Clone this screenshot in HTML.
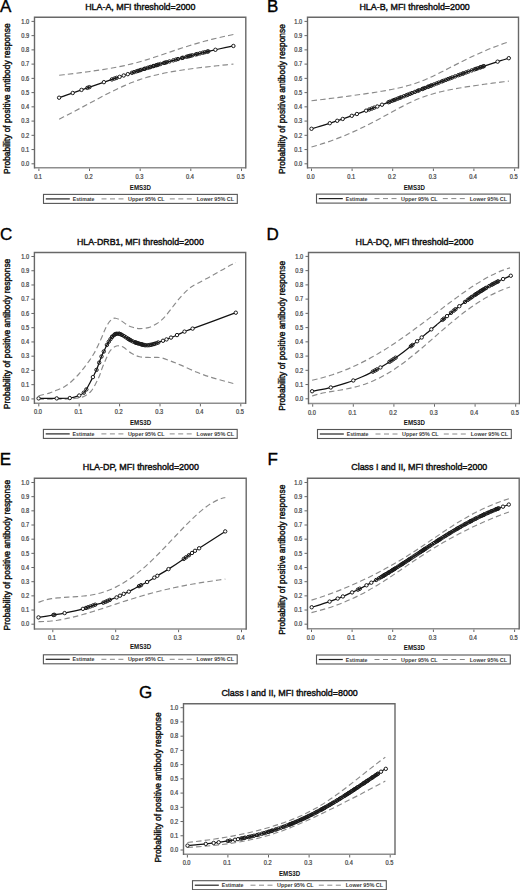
<!DOCTYPE html>
<html><head><meta charset="utf-8"><style>
html,body{margin:0;padding:0;background:#fff;}
body{width:520px;height:890px;overflow:hidden;}
svg{display:block;font-family:"Liberation Sans", sans-serif;}
</style></head><body>
<svg width="520" height="890" viewBox="0 0 520 890">
<rect width="520" height="890" fill="#fff"/>
<text x="0.10" y="11.50" font-size="17.00" text-anchor="start" font-weight="normal" fill="#000" stroke="#000" stroke-width="0.35">A</text>
<text x="140.35" y="9.80" font-size="9.50" text-anchor="middle" font-weight="normal" fill="#111" textLength="110.30" lengthAdjust="spacingAndGlyphs" stroke="#111" stroke-width="0.45">HLA-A, MFI threshold=2000</text>
<g transform="translate(9.60,98.65) rotate(-90)"><text x="0.00" y="0.00" font-size="8.60" text-anchor="middle" font-weight="normal" fill="#111" textLength="150.50" lengthAdjust="spacingAndGlyphs" stroke="#111" stroke-width="0.42">Probability of positive antibody response</text></g>
<line x1="34.50" y1="167.80" x2="245.80" y2="167.80" stroke="#8e8e8e" stroke-width="1.5"/>
<path d="M34.50,168.50 L34.50,17.20 L245.80,17.20 L245.80,168.50" fill="none" stroke="#686868" stroke-width="1.4" stroke-linejoin="miter"/>
<line x1="31.50" y1="163.80" x2="34.50" y2="163.80" stroke="#666" stroke-width="1"/>
<text x="29.20" y="166.00" font-size="6.30" text-anchor="end" font-weight="normal" fill="#444" textLength="7.90" lengthAdjust="spacingAndGlyphs" stroke="#444" stroke-width="0.22">0.0</text>
<line x1="31.50" y1="149.56" x2="34.50" y2="149.56" stroke="#666" stroke-width="1"/>
<text x="29.20" y="151.76" font-size="6.30" text-anchor="end" font-weight="normal" fill="#444" textLength="7.90" lengthAdjust="spacingAndGlyphs" stroke="#444" stroke-width="0.22">0.1</text>
<line x1="31.50" y1="135.32" x2="34.50" y2="135.32" stroke="#666" stroke-width="1"/>
<text x="29.20" y="137.52" font-size="6.30" text-anchor="end" font-weight="normal" fill="#444" textLength="7.90" lengthAdjust="spacingAndGlyphs" stroke="#444" stroke-width="0.22">0.2</text>
<line x1="31.50" y1="121.08" x2="34.50" y2="121.08" stroke="#666" stroke-width="1"/>
<text x="29.20" y="123.28" font-size="6.30" text-anchor="end" font-weight="normal" fill="#444" textLength="7.90" lengthAdjust="spacingAndGlyphs" stroke="#444" stroke-width="0.22">0.3</text>
<line x1="31.50" y1="106.84" x2="34.50" y2="106.84" stroke="#666" stroke-width="1"/>
<text x="29.20" y="109.04" font-size="6.30" text-anchor="end" font-weight="normal" fill="#444" textLength="7.90" lengthAdjust="spacingAndGlyphs" stroke="#444" stroke-width="0.22">0.4</text>
<line x1="31.50" y1="92.60" x2="34.50" y2="92.60" stroke="#666" stroke-width="1"/>
<text x="29.20" y="94.80" font-size="6.30" text-anchor="end" font-weight="normal" fill="#444" textLength="7.90" lengthAdjust="spacingAndGlyphs" stroke="#444" stroke-width="0.22">0.5</text>
<line x1="31.50" y1="78.36" x2="34.50" y2="78.36" stroke="#666" stroke-width="1"/>
<text x="29.20" y="80.56" font-size="6.30" text-anchor="end" font-weight="normal" fill="#444" textLength="7.90" lengthAdjust="spacingAndGlyphs" stroke="#444" stroke-width="0.22">0.6</text>
<line x1="31.50" y1="64.12" x2="34.50" y2="64.12" stroke="#666" stroke-width="1"/>
<text x="29.20" y="66.32" font-size="6.30" text-anchor="end" font-weight="normal" fill="#444" textLength="7.90" lengthAdjust="spacingAndGlyphs" stroke="#444" stroke-width="0.22">0.7</text>
<line x1="31.50" y1="49.88" x2="34.50" y2="49.88" stroke="#666" stroke-width="1"/>
<text x="29.20" y="52.08" font-size="6.30" text-anchor="end" font-weight="normal" fill="#444" textLength="7.90" lengthAdjust="spacingAndGlyphs" stroke="#444" stroke-width="0.22">0.8</text>
<line x1="31.50" y1="35.64" x2="34.50" y2="35.64" stroke="#666" stroke-width="1"/>
<text x="29.20" y="37.84" font-size="6.30" text-anchor="end" font-weight="normal" fill="#444" textLength="7.90" lengthAdjust="spacingAndGlyphs" stroke="#444" stroke-width="0.22">0.9</text>
<line x1="31.50" y1="21.40" x2="34.50" y2="21.40" stroke="#666" stroke-width="1"/>
<text x="29.20" y="23.60" font-size="6.30" text-anchor="end" font-weight="normal" fill="#444" textLength="7.90" lengthAdjust="spacingAndGlyphs" stroke="#444" stroke-width="0.22">1.0</text>
<line x1="38.90" y1="168.50" x2="38.90" y2="171.00" stroke="#666" stroke-width="1"/>
<text x="38.10" y="178.90" font-size="6.30" text-anchor="middle" font-weight="normal" fill="#444" textLength="7.90" lengthAdjust="spacingAndGlyphs" stroke="#444" stroke-width="0.22">0.1</text>
<line x1="89.50" y1="168.50" x2="89.50" y2="171.00" stroke="#666" stroke-width="1"/>
<text x="88.70" y="178.90" font-size="6.30" text-anchor="middle" font-weight="normal" fill="#444" textLength="7.90" lengthAdjust="spacingAndGlyphs" stroke="#444" stroke-width="0.22">0.2</text>
<line x1="140.20" y1="168.50" x2="140.20" y2="171.00" stroke="#666" stroke-width="1"/>
<text x="139.40" y="178.90" font-size="6.30" text-anchor="middle" font-weight="normal" fill="#444" textLength="7.90" lengthAdjust="spacingAndGlyphs" stroke="#444" stroke-width="0.22">0.3</text>
<line x1="190.80" y1="168.50" x2="190.80" y2="171.00" stroke="#666" stroke-width="1"/>
<text x="190.00" y="178.90" font-size="6.30" text-anchor="middle" font-weight="normal" fill="#444" textLength="7.90" lengthAdjust="spacingAndGlyphs" stroke="#444" stroke-width="0.22">0.4</text>
<line x1="241.50" y1="168.50" x2="241.50" y2="171.00" stroke="#666" stroke-width="1"/>
<text x="240.70" y="178.90" font-size="6.30" text-anchor="middle" font-weight="normal" fill="#444" textLength="7.90" lengthAdjust="spacingAndGlyphs" stroke="#444" stroke-width="0.22">0.5</text>
<text x="140.40" y="190.10" font-size="6.40" text-anchor="middle" font-weight="bold" fill="#111" textLength="21.20" lengthAdjust="spacingAndGlyphs">EMS3D</text>
<rect x="43.50" y="194.40" width="193.80" height="9.00" fill="#fff" stroke="#555" stroke-width="1.1"/>
<line x1="45.80" y1="198.90" x2="69.80" y2="198.90" stroke="#222" stroke-width="1.2"/>
<text x="72.70" y="200.90" font-size="5.60" text-anchor="start" font-weight="bold" fill="#3a3a3a" textLength="21.80" lengthAdjust="spacingAndGlyphs">Estimate</text>
<line x1="101.50" y1="198.90" x2="123.70" y2="198.90" stroke="#888" stroke-width="1" stroke-dasharray="5,3.5"/>
<text x="128.00" y="200.90" font-size="5.60" text-anchor="start" font-weight="bold" fill="#3a3a3a" textLength="36.60" lengthAdjust="spacingAndGlyphs">Upper 95% CL</text>
<line x1="169.80" y1="198.90" x2="192.30" y2="198.90" stroke="#888" stroke-width="1" stroke-dasharray="5,3.5"/>
<text x="196.70" y="200.90" font-size="5.60" text-anchor="start" font-weight="bold" fill="#3a3a3a" textLength="37.50" lengthAdjust="spacingAndGlyphs">Lower 95% CL</text>
<path d="M59.16,75.27 C60.37,75.13 64.00,74.71 66.42,74.43 C68.84,74.14 71.26,73.85 73.68,73.56 C76.10,73.26 78.52,72.96 80.94,72.65 C83.36,72.34 85.78,72.03 88.20,71.70 C90.62,71.37 93.04,71.04 95.46,70.69 C97.88,70.34 100.30,69.98 102.72,69.60 C105.14,69.22 107.56,68.82 109.98,68.40 C112.40,67.98 114.82,67.55 117.24,67.08 C119.66,66.61 122.08,66.12 124.50,65.58 C126.92,65.05 129.34,64.49 131.76,63.89 C134.18,63.29 136.60,62.65 139.02,61.98 C141.44,61.30 143.86,60.59 146.28,59.85 C148.70,59.11 151.12,58.34 153.54,57.55 C155.96,56.76 158.38,55.95 160.80,55.13 C163.22,54.32 165.64,53.49 168.06,52.67 C170.48,51.85 172.90,51.02 175.32,50.21 C177.74,49.41 180.16,48.60 182.58,47.82 C185.00,47.04 187.42,46.27 189.84,45.53 C192.26,44.78 194.68,44.05 197.10,43.35 C199.52,42.65 201.94,41.96 204.36,41.30 C206.78,40.65 209.20,40.01 211.62,39.40 C214.04,38.79 216.46,38.20 218.88,37.64 C221.30,37.08 223.72,36.54 226.14,36.02 C228.56,35.50 232.19,34.78 233.40,34.54" fill="none" stroke="#8a8a8a" stroke-width="1.15" stroke-dasharray="5.5,3.2"/>
<path d="M59.16,119.16 C60.37,118.55 64.00,116.73 66.42,115.49 C68.84,114.25 71.26,112.98 73.68,111.71 C76.10,110.44 78.52,109.15 80.94,107.86 C83.36,106.56 85.78,105.26 88.20,103.96 C90.62,102.66 93.04,101.36 95.46,100.07 C97.88,98.78 100.30,97.49 102.72,96.22 C105.14,94.96 107.56,93.71 109.98,92.49 C112.40,91.28 114.82,90.08 117.24,88.93 C119.66,87.78 122.08,86.66 124.50,85.60 C126.92,84.54 129.34,83.52 131.76,82.57 C134.18,81.62 136.60,80.72 139.02,79.88 C141.44,79.04 143.86,78.27 146.28,77.55 C148.70,76.83 151.12,76.17 153.54,75.56 C155.96,74.94 158.38,74.38 160.80,73.86 C163.22,73.33 165.64,72.86 168.06,72.40 C170.48,71.95 172.90,71.53 175.32,71.13 C177.74,70.73 180.16,70.36 182.58,70.00 C185.00,69.64 187.42,69.31 189.84,68.98 C192.26,68.65 194.68,68.34 197.10,68.04 C199.52,67.74 201.94,67.45 204.36,67.17 C206.78,66.88 209.20,66.61 211.62,66.34 C214.04,66.08 216.46,65.82 218.88,65.56 C221.30,65.31 223.72,65.06 226.14,64.81 C228.56,64.57 232.19,64.21 233.40,64.09" fill="none" stroke="#8a8a8a" stroke-width="1.15" stroke-dasharray="5.5,3.2"/>
<path d="M59.16,97.70 C60.37,97.28 64.00,96.02 66.42,95.17 C68.84,94.33 71.26,93.48 73.68,92.64 C76.10,91.79 78.52,90.95 80.94,90.10 C83.36,89.26 85.78,88.41 88.20,87.57 C90.62,86.73 93.04,85.89 95.46,85.05 C97.88,84.22 100.30,83.38 102.72,82.55 C105.14,81.72 107.56,80.90 109.98,80.08 C112.40,79.26 114.82,78.44 117.24,77.64 C119.66,76.83 122.08,76.02 124.50,75.23 C126.92,74.43 129.34,73.64 131.76,72.86 C134.18,72.08 136.60,71.31 139.02,70.54 C141.44,69.78 143.86,69.02 146.28,68.28 C148.70,67.53 151.12,66.79 153.54,66.06 C155.96,65.33 158.38,64.61 160.80,63.91 C163.22,63.20 165.64,62.50 168.06,61.81 C170.48,61.12 172.90,60.45 175.32,59.78 C177.74,59.11 180.16,58.46 182.58,57.81 C185.00,57.17 187.42,56.54 189.84,55.92 C192.26,55.29 194.68,54.68 197.10,54.09 C199.52,53.49 201.94,52.90 204.36,52.32 C206.78,51.75 209.20,51.19 211.62,50.63 C214.04,50.08 216.46,49.54 218.88,49.01 C221.30,48.48 223.72,47.97 226.14,47.46 C228.56,46.95 232.19,46.22 233.40,45.98" fill="none" stroke="#111" stroke-width="1.25"/>
<circle cx="59.10" cy="97.70" r="1.7" fill="#fff" stroke="#1a1a1a" stroke-width="1.0"/>
<circle cx="72.70" cy="92.98" r="1.7" fill="#fff" stroke="#1a1a1a" stroke-width="1.0"/>
<circle cx="81.50" cy="89.90" r="1.7" fill="#fff" stroke="#1a1a1a" stroke-width="1.0"/>
<circle cx="87.40" cy="87.85" r="1.7" fill="none" stroke="#1a1a1a" stroke-width="1.0"/>
<circle cx="89.40" cy="87.15" r="1.7" fill="none" stroke="#1a1a1a" stroke-width="1.0"/>
<circle cx="103.90" cy="82.15" r="1.7" fill="#fff" stroke="#1a1a1a" stroke-width="1.0"/>
<circle cx="111.90" cy="79.43" r="1.7" fill="none" stroke="#1a1a1a" stroke-width="1.0"/>
<circle cx="114.50" cy="78.55" r="1.7" fill="none" stroke="#1a1a1a" stroke-width="1.0"/>
<circle cx="116.60" cy="77.85" r="1.7" fill="none" stroke="#1a1a1a" stroke-width="1.0"/>
<circle cx="119.60" cy="76.85" r="1.7" fill="#fff" stroke="#1a1a1a" stroke-width="1.0"/>
<circle cx="123.70" cy="75.49" r="1.7" fill="#fff" stroke="#1a1a1a" stroke-width="1.0"/>
<circle cx="127.80" cy="74.15" r="1.7" fill="#fff" stroke="#1a1a1a" stroke-width="1.0"/>
<circle cx="131.90" cy="72.82" r="1.7" fill="none" stroke="#1a1a1a" stroke-width="1.0"/>
<circle cx="134.00" cy="72.14" r="1.7" fill="none" stroke="#1a1a1a" stroke-width="1.0"/>
<circle cx="136.50" cy="71.34" r="1.7" fill="none" stroke="#1a1a1a" stroke-width="1.0"/>
<circle cx="138.00" cy="70.87" r="1.7" fill="none" stroke="#1a1a1a" stroke-width="1.0"/>
<circle cx="139.85" cy="70.28" r="1.7" fill="none" stroke="#1a1a1a" stroke-width="1.0"/>
<circle cx="141.16" cy="69.87" r="1.7" fill="none" stroke="#1a1a1a" stroke-width="1.0"/>
<circle cx="144.03" cy="68.97" r="1.7" fill="none" stroke="#1a1a1a" stroke-width="1.0"/>
<circle cx="145.10" cy="68.64" r="1.7" fill="none" stroke="#1a1a1a" stroke-width="1.0"/>
<circle cx="147.61" cy="67.87" r="1.7" fill="none" stroke="#1a1a1a" stroke-width="1.0"/>
<circle cx="149.59" cy="67.26" r="1.7" fill="none" stroke="#1a1a1a" stroke-width="1.0"/>
<circle cx="150.61" cy="66.95" r="1.7" fill="none" stroke="#1a1a1a" stroke-width="1.0"/>
<circle cx="153.03" cy="66.21" r="1.7" fill="none" stroke="#1a1a1a" stroke-width="1.0"/>
<circle cx="153.99" cy="65.92" r="1.7" fill="none" stroke="#1a1a1a" stroke-width="1.0"/>
<circle cx="156.18" cy="65.27" r="1.7" fill="none" stroke="#1a1a1a" stroke-width="1.0"/>
<circle cx="157.24" cy="64.95" r="1.7" fill="none" stroke="#1a1a1a" stroke-width="1.0"/>
<circle cx="158.37" cy="64.62" r="1.7" fill="none" stroke="#1a1a1a" stroke-width="1.0"/>
<circle cx="160.53" cy="63.98" r="1.7" fill="none" stroke="#1a1a1a" stroke-width="1.0"/>
<circle cx="163.95" cy="62.99" r="1.7" fill="none" stroke="#1a1a1a" stroke-width="1.0"/>
<circle cx="165.18" cy="62.63" r="1.7" fill="none" stroke="#1a1a1a" stroke-width="1.0"/>
<circle cx="166.71" cy="62.19" r="1.7" fill="none" stroke="#1a1a1a" stroke-width="1.0"/>
<circle cx="169.51" cy="61.40" r="1.7" fill="none" stroke="#1a1a1a" stroke-width="1.0"/>
<circle cx="173.31" cy="60.34" r="1.7" fill="none" stroke="#1a1a1a" stroke-width="1.0"/>
<circle cx="175.95" cy="59.61" r="1.7" fill="none" stroke="#1a1a1a" stroke-width="1.0"/>
<circle cx="178.03" cy="59.04" r="1.7" fill="none" stroke="#1a1a1a" stroke-width="1.0"/>
<circle cx="181.91" cy="57.99" r="1.7" fill="none" stroke="#1a1a1a" stroke-width="1.0"/>
<circle cx="182.90" cy="57.73" r="1.7" fill="none" stroke="#1a1a1a" stroke-width="1.0"/>
<circle cx="186.42" cy="56.80" r="1.7" fill="none" stroke="#1a1a1a" stroke-width="1.0"/>
<circle cx="188.16" cy="56.35" r="1.7" fill="none" stroke="#1a1a1a" stroke-width="1.0"/>
<circle cx="189.45" cy="56.02" r="1.7" fill="none" stroke="#1a1a1a" stroke-width="1.0"/>
<circle cx="190.66" cy="55.71" r="1.7" fill="none" stroke="#1a1a1a" stroke-width="1.0"/>
<circle cx="192.46" cy="55.25" r="1.7" fill="none" stroke="#1a1a1a" stroke-width="1.0"/>
<circle cx="195.85" cy="54.40" r="1.7" fill="none" stroke="#1a1a1a" stroke-width="1.0"/>
<circle cx="197.25" cy="54.05" r="1.7" fill="none" stroke="#1a1a1a" stroke-width="1.0"/>
<circle cx="199.90" cy="53.40" r="1.7" fill="none" stroke="#1a1a1a" stroke-width="1.0"/>
<circle cx="202.74" cy="52.71" r="1.7" fill="none" stroke="#1a1a1a" stroke-width="1.0"/>
<circle cx="204.74" cy="52.23" r="1.7" fill="none" stroke="#1a1a1a" stroke-width="1.0"/>
<circle cx="207.29" cy="51.63" r="1.7" fill="none" stroke="#1a1a1a" stroke-width="1.0"/>
<circle cx="208.32" cy="51.39" r="1.7" fill="none" stroke="#1a1a1a" stroke-width="1.0"/>
<circle cx="215.40" cy="49.78" r="1.7" fill="#fff" stroke="#1a1a1a" stroke-width="1.0"/>
<circle cx="233.40" cy="45.98" r="1.7" fill="#fff" stroke="#1a1a1a" stroke-width="1.0"/>
<text x="267.00" y="11.90" font-size="17.00" text-anchor="start" font-weight="normal" fill="#000" stroke="#000" stroke-width="0.35">B</text>
<text x="414.60" y="10.20" font-size="9.50" text-anchor="middle" font-weight="normal" fill="#111" textLength="110.40" lengthAdjust="spacingAndGlyphs" stroke="#111" stroke-width="0.45">HLA-B, MFI threshold=2000</text>
<g transform="translate(284.60,99.15) rotate(-90)"><text x="0.00" y="0.00" font-size="8.60" text-anchor="middle" font-weight="normal" fill="#111" textLength="149.90" lengthAdjust="spacingAndGlyphs" stroke="#111" stroke-width="0.42">Probability of positive antibody response</text></g>
<line x1="307.50" y1="167.80" x2="518.50" y2="167.80" stroke="#8e8e8e" stroke-width="1.5"/>
<path d="M307.50,168.50 L307.50,17.20 L518.50,17.20 L518.50,168.50" fill="none" stroke="#686868" stroke-width="1.4" stroke-linejoin="miter"/>
<line x1="304.50" y1="163.80" x2="307.50" y2="163.80" stroke="#666" stroke-width="1"/>
<text x="302.20" y="166.00" font-size="6.30" text-anchor="end" font-weight="normal" fill="#444" textLength="7.90" lengthAdjust="spacingAndGlyphs" stroke="#444" stroke-width="0.22">0.0</text>
<line x1="304.50" y1="149.56" x2="307.50" y2="149.56" stroke="#666" stroke-width="1"/>
<text x="302.20" y="151.76" font-size="6.30" text-anchor="end" font-weight="normal" fill="#444" textLength="7.90" lengthAdjust="spacingAndGlyphs" stroke="#444" stroke-width="0.22">0.1</text>
<line x1="304.50" y1="135.32" x2="307.50" y2="135.32" stroke="#666" stroke-width="1"/>
<text x="302.20" y="137.52" font-size="6.30" text-anchor="end" font-weight="normal" fill="#444" textLength="7.90" lengthAdjust="spacingAndGlyphs" stroke="#444" stroke-width="0.22">0.2</text>
<line x1="304.50" y1="121.08" x2="307.50" y2="121.08" stroke="#666" stroke-width="1"/>
<text x="302.20" y="123.28" font-size="6.30" text-anchor="end" font-weight="normal" fill="#444" textLength="7.90" lengthAdjust="spacingAndGlyphs" stroke="#444" stroke-width="0.22">0.3</text>
<line x1="304.50" y1="106.84" x2="307.50" y2="106.84" stroke="#666" stroke-width="1"/>
<text x="302.20" y="109.04" font-size="6.30" text-anchor="end" font-weight="normal" fill="#444" textLength="7.90" lengthAdjust="spacingAndGlyphs" stroke="#444" stroke-width="0.22">0.4</text>
<line x1="304.50" y1="92.60" x2="307.50" y2="92.60" stroke="#666" stroke-width="1"/>
<text x="302.20" y="94.80" font-size="6.30" text-anchor="end" font-weight="normal" fill="#444" textLength="7.90" lengthAdjust="spacingAndGlyphs" stroke="#444" stroke-width="0.22">0.5</text>
<line x1="304.50" y1="78.36" x2="307.50" y2="78.36" stroke="#666" stroke-width="1"/>
<text x="302.20" y="80.56" font-size="6.30" text-anchor="end" font-weight="normal" fill="#444" textLength="7.90" lengthAdjust="spacingAndGlyphs" stroke="#444" stroke-width="0.22">0.6</text>
<line x1="304.50" y1="64.12" x2="307.50" y2="64.12" stroke="#666" stroke-width="1"/>
<text x="302.20" y="66.32" font-size="6.30" text-anchor="end" font-weight="normal" fill="#444" textLength="7.90" lengthAdjust="spacingAndGlyphs" stroke="#444" stroke-width="0.22">0.7</text>
<line x1="304.50" y1="49.88" x2="307.50" y2="49.88" stroke="#666" stroke-width="1"/>
<text x="302.20" y="52.08" font-size="6.30" text-anchor="end" font-weight="normal" fill="#444" textLength="7.90" lengthAdjust="spacingAndGlyphs" stroke="#444" stroke-width="0.22">0.8</text>
<line x1="304.50" y1="35.64" x2="307.50" y2="35.64" stroke="#666" stroke-width="1"/>
<text x="302.20" y="37.84" font-size="6.30" text-anchor="end" font-weight="normal" fill="#444" textLength="7.90" lengthAdjust="spacingAndGlyphs" stroke="#444" stroke-width="0.22">0.9</text>
<line x1="304.50" y1="21.40" x2="307.50" y2="21.40" stroke="#666" stroke-width="1"/>
<text x="302.20" y="23.60" font-size="6.30" text-anchor="end" font-weight="normal" fill="#444" textLength="7.90" lengthAdjust="spacingAndGlyphs" stroke="#444" stroke-width="0.22">1.0</text>
<line x1="311.50" y1="168.50" x2="311.50" y2="171.00" stroke="#666" stroke-width="1"/>
<text x="310.70" y="178.90" font-size="6.30" text-anchor="middle" font-weight="normal" fill="#444" textLength="7.90" lengthAdjust="spacingAndGlyphs" stroke="#444" stroke-width="0.22">0.0</text>
<line x1="352.10" y1="168.50" x2="352.10" y2="171.00" stroke="#666" stroke-width="1"/>
<text x="351.30" y="178.90" font-size="6.30" text-anchor="middle" font-weight="normal" fill="#444" textLength="7.90" lengthAdjust="spacingAndGlyphs" stroke="#444" stroke-width="0.22">0.1</text>
<line x1="392.70" y1="168.50" x2="392.70" y2="171.00" stroke="#666" stroke-width="1"/>
<text x="391.90" y="178.90" font-size="6.30" text-anchor="middle" font-weight="normal" fill="#444" textLength="7.90" lengthAdjust="spacingAndGlyphs" stroke="#444" stroke-width="0.22">0.2</text>
<line x1="433.40" y1="168.50" x2="433.40" y2="171.00" stroke="#666" stroke-width="1"/>
<text x="432.60" y="178.90" font-size="6.30" text-anchor="middle" font-weight="normal" fill="#444" textLength="7.90" lengthAdjust="spacingAndGlyphs" stroke="#444" stroke-width="0.22">0.3</text>
<line x1="473.90" y1="168.50" x2="473.90" y2="171.00" stroke="#666" stroke-width="1"/>
<text x="473.10" y="178.90" font-size="6.30" text-anchor="middle" font-weight="normal" fill="#444" textLength="7.90" lengthAdjust="spacingAndGlyphs" stroke="#444" stroke-width="0.22">0.4</text>
<line x1="514.60" y1="168.50" x2="514.60" y2="171.00" stroke="#666" stroke-width="1"/>
<text x="513.80" y="178.90" font-size="6.30" text-anchor="middle" font-weight="normal" fill="#444" textLength="7.90" lengthAdjust="spacingAndGlyphs" stroke="#444" stroke-width="0.22">0.5</text>
<text x="414.30" y="189.90" font-size="6.40" text-anchor="middle" font-weight="bold" fill="#111" textLength="21.20" lengthAdjust="spacingAndGlyphs">EMS3D</text>
<rect x="316.50" y="194.10" width="193.80" height="9.00" fill="#fff" stroke="#555" stroke-width="1.1"/>
<line x1="318.80" y1="198.60" x2="342.80" y2="198.60" stroke="#222" stroke-width="1.2"/>
<text x="345.70" y="200.60" font-size="5.60" text-anchor="start" font-weight="bold" fill="#3a3a3a" textLength="21.80" lengthAdjust="spacingAndGlyphs">Estimate</text>
<line x1="374.50" y1="198.60" x2="396.70" y2="198.60" stroke="#888" stroke-width="1" stroke-dasharray="5,3.5"/>
<text x="401.00" y="200.60" font-size="5.60" text-anchor="start" font-weight="bold" fill="#3a3a3a" textLength="36.60" lengthAdjust="spacingAndGlyphs">Upper 95% CL</text>
<line x1="442.80" y1="198.60" x2="465.30" y2="198.60" stroke="#888" stroke-width="1" stroke-dasharray="5,3.5"/>
<text x="469.70" y="200.60" font-size="5.60" text-anchor="start" font-weight="bold" fill="#3a3a3a" textLength="37.50" lengthAdjust="spacingAndGlyphs">Lower 95% CL</text>
<path d="M311.50,100.79 C312.87,100.63 316.98,100.13 319.73,99.79 C322.47,99.45 325.21,99.12 327.95,98.77 C330.69,98.43 333.43,98.08 336.18,97.73 C338.92,97.38 341.66,97.03 344.40,96.67 C347.14,96.31 349.89,95.94 352.63,95.57 C355.37,95.20 358.11,94.82 360.85,94.43 C363.60,94.04 366.34,93.64 369.08,93.23 C371.82,92.82 374.56,92.40 377.30,91.96 C380.05,91.51 382.79,91.06 385.53,90.56 C388.27,90.07 391.01,89.57 393.76,89.00 C396.50,88.44 399.24,87.86 401.98,87.19 C404.72,86.52 407.46,85.81 410.21,85.00 C412.95,84.18 415.69,83.30 418.43,82.30 C421.17,81.31 423.92,80.21 426.66,79.04 C429.40,77.87 432.14,76.58 434.88,75.27 C437.63,73.96 440.37,72.56 443.11,71.18 C445.85,69.79 448.59,68.35 451.33,66.94 C454.08,65.54 456.82,64.11 459.56,62.73 C462.30,61.34 465.04,59.97 467.79,58.64 C470.53,57.31 473.27,56.01 476.01,54.75 C478.75,53.50 481.49,52.28 484.24,51.11 C486.98,49.94 489.72,48.82 492.46,47.74 C495.20,46.66 497.95,45.64 500.69,44.65 C503.43,43.67 507.54,42.32 508.91,41.85" fill="none" stroke="#8a8a8a" stroke-width="1.15" stroke-dasharray="5.5,3.2"/>
<path d="M311.50,146.99 C312.87,146.59 316.98,145.43 319.73,144.58 C322.47,143.74 325.21,142.85 327.95,141.90 C330.69,140.96 333.43,139.98 336.18,138.94 C338.92,137.90 341.66,136.81 344.40,135.68 C347.14,134.54 349.89,133.36 352.63,132.13 C355.37,130.90 358.11,129.62 360.85,128.30 C363.60,126.98 366.34,125.61 369.08,124.21 C371.82,122.82 374.56,121.38 377.30,119.92 C380.05,118.47 382.79,116.98 385.53,115.49 C388.27,114.00 391.01,112.49 393.76,111.01 C396.50,109.53 399.24,108.04 401.98,106.62 C404.72,105.20 407.46,103.79 410.21,102.49 C412.95,101.19 415.69,99.94 418.43,98.82 C421.17,97.69 423.92,96.66 426.66,95.73 C429.40,94.80 432.14,93.99 434.88,93.23 C437.63,92.47 440.37,91.82 443.11,91.20 C445.85,90.58 448.59,90.03 451.33,89.50 C454.08,88.97 456.82,88.49 459.56,88.02 C462.30,87.55 465.04,87.11 467.79,86.69 C470.53,86.26 473.27,85.85 476.01,85.46 C478.75,85.06 481.49,84.68 484.24,84.30 C486.98,83.92 489.72,83.56 492.46,83.19 C495.20,82.83 497.95,82.48 500.69,82.13 C503.43,81.78 507.54,81.27 508.91,81.09" fill="none" stroke="#8a8a8a" stroke-width="1.15" stroke-dasharray="5.5,3.2"/>
<path d="M311.50,128.79 C312.87,128.39 316.98,127.18 319.73,126.35 C322.47,125.51 325.21,124.66 327.95,123.79 C330.69,122.92 333.43,122.03 336.18,121.13 C338.92,120.22 341.66,119.30 344.40,118.37 C347.14,117.43 349.89,116.48 352.63,115.52 C355.37,114.55 358.11,113.57 360.85,112.58 C363.60,111.59 366.34,110.59 369.08,109.57 C371.82,108.56 374.56,107.53 377.30,106.50 C380.05,105.46 382.79,104.42 385.53,103.36 C388.27,102.31 391.01,101.25 393.76,100.19 C396.50,99.13 399.24,98.06 401.98,96.98 C404.72,95.91 407.46,94.84 410.21,93.76 C412.95,92.69 415.69,91.61 418.43,90.53 C421.17,89.46 423.92,88.38 426.66,87.31 C429.40,86.24 432.14,85.17 434.88,84.11 C437.63,83.05 440.37,82.00 443.11,80.95 C445.85,79.90 448.59,78.86 451.33,77.83 C454.08,76.80 456.82,75.78 459.56,74.77 C462.30,73.77 465.04,72.77 467.79,71.78 C470.53,70.80 473.27,69.83 476.01,68.87 C478.75,67.92 481.49,66.97 484.24,66.05 C486.98,65.12 489.72,64.21 492.46,63.31 C495.20,62.42 497.95,61.54 500.69,60.68 C503.43,59.82 507.54,58.58 508.91,58.16" fill="none" stroke="#111" stroke-width="1.25"/>
<circle cx="311.50" cy="128.79" r="1.7" fill="#fff" stroke="#1a1a1a" stroke-width="1.0"/>
<circle cx="329.80" cy="123.20" r="1.7" fill="#fff" stroke="#1a1a1a" stroke-width="1.0"/>
<circle cx="337.20" cy="120.79" r="1.7" fill="#fff" stroke="#1a1a1a" stroke-width="1.0"/>
<circle cx="342.70" cy="118.95" r="1.7" fill="#fff" stroke="#1a1a1a" stroke-width="1.0"/>
<circle cx="351.80" cy="115.81" r="1.7" fill="#fff" stroke="#1a1a1a" stroke-width="1.0"/>
<circle cx="356.90" cy="114.00" r="1.7" fill="#fff" stroke="#1a1a1a" stroke-width="1.0"/>
<circle cx="366.10" cy="110.67" r="1.7" fill="#fff" stroke="#1a1a1a" stroke-width="1.0"/>
<circle cx="369.20" cy="109.53" r="1.7" fill="none" stroke="#1a1a1a" stroke-width="1.0"/>
<circle cx="371.80" cy="108.56" r="1.7" fill="none" stroke="#1a1a1a" stroke-width="1.0"/>
<circle cx="374.30" cy="107.63" r="1.7" fill="none" stroke="#1a1a1a" stroke-width="1.0"/>
<circle cx="377.30" cy="106.50" r="1.7" fill="#fff" stroke="#1a1a1a" stroke-width="1.0"/>
<circle cx="382.00" cy="104.71" r="1.7" fill="#fff" stroke="#1a1a1a" stroke-width="1.0"/>
<circle cx="388.50" cy="102.22" r="1.7" fill="none" stroke="#1a1a1a" stroke-width="1.0"/>
<circle cx="389.74" cy="101.75" r="1.7" fill="none" stroke="#1a1a1a" stroke-width="1.0"/>
<circle cx="392.20" cy="100.79" r="1.7" fill="none" stroke="#1a1a1a" stroke-width="1.0"/>
<circle cx="394.02" cy="100.09" r="1.7" fill="none" stroke="#1a1a1a" stroke-width="1.0"/>
<circle cx="395.53" cy="99.50" r="1.7" fill="none" stroke="#1a1a1a" stroke-width="1.0"/>
<circle cx="397.76" cy="98.63" r="1.7" fill="none" stroke="#1a1a1a" stroke-width="1.0"/>
<circle cx="399.63" cy="97.90" r="1.7" fill="none" stroke="#1a1a1a" stroke-width="1.0"/>
<circle cx="401.11" cy="97.32" r="1.7" fill="none" stroke="#1a1a1a" stroke-width="1.0"/>
<circle cx="403.88" cy="96.24" r="1.7" fill="none" stroke="#1a1a1a" stroke-width="1.0"/>
<circle cx="406.40" cy="95.26" r="1.7" fill="none" stroke="#1a1a1a" stroke-width="1.0"/>
<circle cx="407.73" cy="94.73" r="1.7" fill="none" stroke="#1a1a1a" stroke-width="1.0"/>
<circle cx="409.92" cy="93.87" r="1.7" fill="none" stroke="#1a1a1a" stroke-width="1.0"/>
<circle cx="411.99" cy="93.06" r="1.7" fill="none" stroke="#1a1a1a" stroke-width="1.0"/>
<circle cx="414.96" cy="91.89" r="1.7" fill="none" stroke="#1a1a1a" stroke-width="1.0"/>
<circle cx="417.56" cy="90.87" r="1.7" fill="none" stroke="#1a1a1a" stroke-width="1.0"/>
<circle cx="419.01" cy="90.31" r="1.7" fill="none" stroke="#1a1a1a" stroke-width="1.0"/>
<circle cx="422.26" cy="89.03" r="1.7" fill="none" stroke="#1a1a1a" stroke-width="1.0"/>
<circle cx="423.27" cy="88.64" r="1.7" fill="none" stroke="#1a1a1a" stroke-width="1.0"/>
<circle cx="425.05" cy="87.94" r="1.7" fill="none" stroke="#1a1a1a" stroke-width="1.0"/>
<circle cx="427.72" cy="86.90" r="1.7" fill="none" stroke="#1a1a1a" stroke-width="1.0"/>
<circle cx="428.82" cy="86.47" r="1.7" fill="none" stroke="#1a1a1a" stroke-width="1.0"/>
<circle cx="430.79" cy="85.70" r="1.7" fill="none" stroke="#1a1a1a" stroke-width="1.0"/>
<circle cx="431.59" cy="85.39" r="1.7" fill="none" stroke="#1a1a1a" stroke-width="1.0"/>
<circle cx="434.03" cy="84.45" r="1.7" fill="none" stroke="#1a1a1a" stroke-width="1.0"/>
<circle cx="436.71" cy="83.41" r="1.7" fill="none" stroke="#1a1a1a" stroke-width="1.0"/>
<circle cx="438.90" cy="82.56" r="1.7" fill="none" stroke="#1a1a1a" stroke-width="1.0"/>
<circle cx="441.88" cy="81.42" r="1.7" fill="none" stroke="#1a1a1a" stroke-width="1.0"/>
<circle cx="443.40" cy="80.84" r="1.7" fill="none" stroke="#1a1a1a" stroke-width="1.0"/>
<circle cx="445.90" cy="79.89" r="1.7" fill="none" stroke="#1a1a1a" stroke-width="1.0"/>
<circle cx="448.15" cy="79.03" r="1.7" fill="none" stroke="#1a1a1a" stroke-width="1.0"/>
<circle cx="450.36" cy="78.20" r="1.7" fill="none" stroke="#1a1a1a" stroke-width="1.0"/>
<circle cx="452.24" cy="77.49" r="1.7" fill="none" stroke="#1a1a1a" stroke-width="1.0"/>
<circle cx="455.13" cy="76.41" r="1.7" fill="none" stroke="#1a1a1a" stroke-width="1.0"/>
<circle cx="458.28" cy="75.24" r="1.7" fill="none" stroke="#1a1a1a" stroke-width="1.0"/>
<circle cx="460.22" cy="74.53" r="1.7" fill="none" stroke="#1a1a1a" stroke-width="1.0"/>
<circle cx="462.64" cy="73.64" r="1.7" fill="none" stroke="#1a1a1a" stroke-width="1.0"/>
<circle cx="463.50" cy="73.33" r="1.7" fill="none" stroke="#1a1a1a" stroke-width="1.0"/>
<circle cx="466.02" cy="72.42" r="1.7" fill="none" stroke="#1a1a1a" stroke-width="1.0"/>
<circle cx="468.41" cy="71.56" r="1.7" fill="none" stroke="#1a1a1a" stroke-width="1.0"/>
<circle cx="471.69" cy="70.39" r="1.7" fill="none" stroke="#1a1a1a" stroke-width="1.0"/>
<circle cx="474.53" cy="69.39" r="1.7" fill="none" stroke="#1a1a1a" stroke-width="1.0"/>
<circle cx="475.97" cy="68.89" r="1.7" fill="none" stroke="#1a1a1a" stroke-width="1.0"/>
<circle cx="477.67" cy="68.29" r="1.7" fill="none" stroke="#1a1a1a" stroke-width="1.0"/>
<circle cx="480.11" cy="67.45" r="1.7" fill="none" stroke="#1a1a1a" stroke-width="1.0"/>
<circle cx="480.87" cy="67.19" r="1.7" fill="none" stroke="#1a1a1a" stroke-width="1.0"/>
<circle cx="482.77" cy="66.54" r="1.7" fill="none" stroke="#1a1a1a" stroke-width="1.0"/>
<circle cx="483.90" cy="66.16" r="1.7" fill="none" stroke="#1a1a1a" stroke-width="1.0"/>
<circle cx="497.60" cy="61.66" r="1.7" fill="#fff" stroke="#1a1a1a" stroke-width="1.0"/>
<circle cx="508.80" cy="58.19" r="1.7" fill="#fff" stroke="#1a1a1a" stroke-width="1.0"/>
<text x="0.00" y="240.00" font-size="17.00" text-anchor="start" font-weight="normal" fill="#000" stroke="#000" stroke-width="0.35">C</text>
<text x="140.35" y="244.60" font-size="9.50" text-anchor="middle" font-weight="normal" fill="#111" textLength="126.90" lengthAdjust="spacingAndGlyphs" stroke="#111" stroke-width="0.45">HLA-DRB1, MFI threshold=2000</text>
<g transform="translate(9.60,333.95) rotate(-90)"><text x="0.00" y="0.00" font-size="8.60" text-anchor="middle" font-weight="normal" fill="#111" textLength="150.50" lengthAdjust="spacingAndGlyphs" stroke="#111" stroke-width="0.42">Probability of positive antibody response</text></g>
<line x1="34.40" y1="403.20" x2="245.70" y2="403.20" stroke="#8e8e8e" stroke-width="1.5"/>
<path d="M34.40,403.90 L34.40,252.50 L245.70,252.50 L245.70,403.90" fill="none" stroke="#686868" stroke-width="1.4" stroke-linejoin="miter"/>
<line x1="31.40" y1="398.90" x2="34.40" y2="398.90" stroke="#666" stroke-width="1"/>
<text x="29.10" y="401.10" font-size="6.30" text-anchor="end" font-weight="normal" fill="#444" textLength="7.90" lengthAdjust="spacingAndGlyphs" stroke="#444" stroke-width="0.22">0.0</text>
<line x1="31.40" y1="384.66" x2="34.40" y2="384.66" stroke="#666" stroke-width="1"/>
<text x="29.10" y="386.86" font-size="6.30" text-anchor="end" font-weight="normal" fill="#444" textLength="7.90" lengthAdjust="spacingAndGlyphs" stroke="#444" stroke-width="0.22">0.1</text>
<line x1="31.40" y1="370.42" x2="34.40" y2="370.42" stroke="#666" stroke-width="1"/>
<text x="29.10" y="372.62" font-size="6.30" text-anchor="end" font-weight="normal" fill="#444" textLength="7.90" lengthAdjust="spacingAndGlyphs" stroke="#444" stroke-width="0.22">0.2</text>
<line x1="31.40" y1="356.18" x2="34.40" y2="356.18" stroke="#666" stroke-width="1"/>
<text x="29.10" y="358.38" font-size="6.30" text-anchor="end" font-weight="normal" fill="#444" textLength="7.90" lengthAdjust="spacingAndGlyphs" stroke="#444" stroke-width="0.22">0.3</text>
<line x1="31.40" y1="341.94" x2="34.40" y2="341.94" stroke="#666" stroke-width="1"/>
<text x="29.10" y="344.14" font-size="6.30" text-anchor="end" font-weight="normal" fill="#444" textLength="7.90" lengthAdjust="spacingAndGlyphs" stroke="#444" stroke-width="0.22">0.4</text>
<line x1="31.40" y1="327.70" x2="34.40" y2="327.70" stroke="#666" stroke-width="1"/>
<text x="29.10" y="329.90" font-size="6.30" text-anchor="end" font-weight="normal" fill="#444" textLength="7.90" lengthAdjust="spacingAndGlyphs" stroke="#444" stroke-width="0.22">0.5</text>
<line x1="31.40" y1="313.46" x2="34.40" y2="313.46" stroke="#666" stroke-width="1"/>
<text x="29.10" y="315.66" font-size="6.30" text-anchor="end" font-weight="normal" fill="#444" textLength="7.90" lengthAdjust="spacingAndGlyphs" stroke="#444" stroke-width="0.22">0.6</text>
<line x1="31.40" y1="299.22" x2="34.40" y2="299.22" stroke="#666" stroke-width="1"/>
<text x="29.10" y="301.42" font-size="6.30" text-anchor="end" font-weight="normal" fill="#444" textLength="7.90" lengthAdjust="spacingAndGlyphs" stroke="#444" stroke-width="0.22">0.7</text>
<line x1="31.40" y1="284.98" x2="34.40" y2="284.98" stroke="#666" stroke-width="1"/>
<text x="29.10" y="287.18" font-size="6.30" text-anchor="end" font-weight="normal" fill="#444" textLength="7.90" lengthAdjust="spacingAndGlyphs" stroke="#444" stroke-width="0.22">0.8</text>
<line x1="31.40" y1="270.74" x2="34.40" y2="270.74" stroke="#666" stroke-width="1"/>
<text x="29.10" y="272.94" font-size="6.30" text-anchor="end" font-weight="normal" fill="#444" textLength="7.90" lengthAdjust="spacingAndGlyphs" stroke="#444" stroke-width="0.22">0.9</text>
<line x1="31.40" y1="256.50" x2="34.40" y2="256.50" stroke="#666" stroke-width="1"/>
<text x="29.10" y="258.70" font-size="6.30" text-anchor="end" font-weight="normal" fill="#444" textLength="7.90" lengthAdjust="spacingAndGlyphs" stroke="#444" stroke-width="0.22">1.0</text>
<line x1="38.80" y1="403.90" x2="38.80" y2="406.40" stroke="#666" stroke-width="1"/>
<text x="38.00" y="414.30" font-size="6.30" text-anchor="middle" font-weight="normal" fill="#444" textLength="7.90" lengthAdjust="spacingAndGlyphs" stroke="#444" stroke-width="0.22">0.0</text>
<line x1="79.20" y1="403.90" x2="79.20" y2="406.40" stroke="#666" stroke-width="1"/>
<text x="78.40" y="414.30" font-size="6.30" text-anchor="middle" font-weight="normal" fill="#444" textLength="7.90" lengthAdjust="spacingAndGlyphs" stroke="#444" stroke-width="0.22">0.1</text>
<line x1="119.60" y1="403.90" x2="119.60" y2="406.40" stroke="#666" stroke-width="1"/>
<text x="118.80" y="414.30" font-size="6.30" text-anchor="middle" font-weight="normal" fill="#444" textLength="7.90" lengthAdjust="spacingAndGlyphs" stroke="#444" stroke-width="0.22">0.2</text>
<line x1="160.00" y1="403.90" x2="160.00" y2="406.40" stroke="#666" stroke-width="1"/>
<text x="159.20" y="414.30" font-size="6.30" text-anchor="middle" font-weight="normal" fill="#444" textLength="7.90" lengthAdjust="spacingAndGlyphs" stroke="#444" stroke-width="0.22">0.3</text>
<line x1="200.40" y1="403.90" x2="200.40" y2="406.40" stroke="#666" stroke-width="1"/>
<text x="199.60" y="414.30" font-size="6.30" text-anchor="middle" font-weight="normal" fill="#444" textLength="7.90" lengthAdjust="spacingAndGlyphs" stroke="#444" stroke-width="0.22">0.4</text>
<line x1="240.80" y1="403.90" x2="240.80" y2="406.40" stroke="#666" stroke-width="1"/>
<text x="240.00" y="414.30" font-size="6.30" text-anchor="middle" font-weight="normal" fill="#444" textLength="7.90" lengthAdjust="spacingAndGlyphs" stroke="#444" stroke-width="0.22">0.5</text>
<text x="140.60" y="424.90" font-size="6.40" text-anchor="middle" font-weight="bold" fill="#111" textLength="21.20" lengthAdjust="spacingAndGlyphs">EMS3D</text>
<rect x="43.40" y="429.40" width="193.80" height="9.00" fill="#fff" stroke="#555" stroke-width="1.1"/>
<line x1="45.70" y1="433.90" x2="69.70" y2="433.90" stroke="#222" stroke-width="1.2"/>
<text x="72.60" y="435.90" font-size="5.60" text-anchor="start" font-weight="bold" fill="#3a3a3a" textLength="21.80" lengthAdjust="spacingAndGlyphs">Estimate</text>
<line x1="101.40" y1="433.90" x2="123.60" y2="433.90" stroke="#888" stroke-width="1" stroke-dasharray="5,3.5"/>
<text x="127.90" y="435.90" font-size="5.60" text-anchor="start" font-weight="bold" fill="#3a3a3a" textLength="36.60" lengthAdjust="spacingAndGlyphs">Upper 95% CL</text>
<line x1="169.70" y1="433.90" x2="192.20" y2="433.90" stroke="#888" stroke-width="1" stroke-dasharray="5,3.5"/>
<text x="196.60" y="435.90" font-size="5.60" text-anchor="start" font-weight="bold" fill="#3a3a3a" textLength="37.50" lengthAdjust="spacingAndGlyphs">Lower 95% CL</text>
<path d="M38.50,395.80 C40.32,395.35 46.30,394.07 49.40,393.10 C52.50,392.13 54.53,391.10 57.10,390.00 C59.67,388.90 62.37,387.97 64.80,386.50 C67.23,385.03 69.42,383.20 71.70,381.20 C73.98,379.20 76.48,376.68 78.50,374.50 C80.52,372.32 82.02,370.38 83.80,368.10 C85.58,365.82 87.53,363.18 89.20,360.80 C90.87,358.42 92.38,356.23 93.80,353.80 C95.22,351.37 96.42,348.82 97.70,346.20 C98.98,343.58 100.32,340.80 101.50,338.10 C102.68,335.40 103.63,332.52 104.80,330.00 C105.97,327.48 107.30,324.78 108.50,323.00 C109.70,321.22 110.83,320.10 112.00,319.30 C113.17,318.50 114.07,318.03 115.50,318.20 C116.93,318.37 118.55,319.10 120.60,320.30 C122.65,321.50 125.58,324.18 127.80,325.40 C130.02,326.62 131.87,327.07 133.90,327.60 C135.93,328.13 137.57,328.60 140.00,328.60 C142.43,328.60 145.73,328.40 148.50,327.60 C151.27,326.80 153.93,325.53 156.60,323.80 C159.27,322.07 161.83,320.00 164.50,317.20 C167.17,314.40 169.88,310.40 172.60,307.00 C175.32,303.60 178.08,299.85 180.80,296.80 C183.52,293.75 186.18,290.90 188.90,288.70 C191.62,286.50 193.37,285.70 197.10,283.60 C200.83,281.50 206.55,278.72 211.30,276.10 C216.05,273.48 221.52,270.15 225.60,267.90 C229.68,265.65 234.10,263.48 235.80,262.60" fill="none" stroke="#8a8a8a" stroke-width="1.15" stroke-dasharray="5.5,3.2"/>
<path d="M38.50,399.20 C42.08,399.20 54.75,399.27 60.00,399.20 C65.25,399.13 67.33,398.95 70.00,398.80 C72.67,398.65 73.70,398.68 76.00,398.30 C78.30,397.92 81.33,397.63 83.80,396.50 C86.27,395.37 88.87,393.55 90.80,391.50 C92.73,389.45 94.00,386.70 95.40,384.20 C96.80,381.70 98.05,379.23 99.20,376.50 C100.35,373.77 101.13,370.78 102.30,367.80 C103.47,364.82 105.05,361.20 106.20,358.60 C107.35,356.00 108.15,353.92 109.20,352.20 C110.25,350.48 111.28,349.33 112.50,348.30 C113.72,347.27 115.33,346.38 116.50,346.00 C117.67,345.62 118.33,345.78 119.50,346.00 C120.67,346.22 121.50,346.08 123.50,347.30 C125.50,348.52 128.82,351.73 131.50,353.30 C134.18,354.87 136.48,356.00 139.60,356.70 C142.72,357.40 146.73,357.35 150.20,357.50 C153.67,357.65 157.00,357.02 160.40,357.60 C163.80,358.18 167.20,359.75 170.60,361.00 C174.00,362.25 176.38,363.22 180.80,365.10 C185.22,366.98 192.02,370.25 197.10,372.30 C202.18,374.35 206.55,375.88 211.30,377.40 C216.05,378.92 221.52,380.28 225.60,381.40 C229.68,382.52 234.10,383.65 235.80,384.10" fill="none" stroke="#8a8a8a" stroke-width="1.15" stroke-dasharray="5.5,3.2"/>
<path d="M38.50,398.40 C41.55,398.40 51.50,398.47 56.80,398.40 C62.10,398.33 66.63,398.45 70.30,398.00 C73.97,397.55 76.53,396.60 78.80,395.70 C81.07,394.80 82.60,393.72 83.90,392.60 C85.20,391.48 85.57,390.68 86.60,389.00 C87.63,387.32 89.02,384.55 90.10,382.50 C91.18,380.45 92.08,378.68 93.10,376.70 C94.12,374.72 95.25,372.77 96.20,370.60 C97.15,368.43 97.88,366.13 98.80,363.70 C99.72,361.27 100.78,358.22 101.70,356.00 C102.62,353.78 103.42,352.28 104.30,350.40 C105.18,348.52 106.15,346.30 107.00,344.70 C107.85,343.10 108.48,342.18 109.40,340.80 C110.32,339.42 111.48,337.52 112.50,336.40 C113.52,335.28 114.48,334.55 115.50,334.10 C116.52,333.65 117.58,333.60 118.60,333.70 C119.62,333.80 120.42,334.12 121.60,334.70 C122.78,335.28 124.33,336.35 125.70,337.20 C127.07,338.05 128.43,339.02 129.80,339.80 C131.17,340.58 132.20,341.22 133.90,341.90 C135.60,342.58 137.97,343.33 140.00,343.90 C142.03,344.47 144.07,345.20 146.10,345.30 C148.13,345.40 150.17,344.97 152.20,344.50 C154.23,344.03 155.92,343.35 158.30,342.50 C160.68,341.65 163.43,340.62 166.50,339.40 C169.57,338.18 173.65,336.52 176.70,335.20 C179.75,333.88 182.15,332.60 184.80,331.50 C187.45,330.40 184.10,331.73 192.60,328.60 C201.10,325.47 228.60,315.35 235.80,312.70" fill="none" stroke="#111" stroke-width="1.25"/>
<circle cx="38.60" cy="398.40" r="1.7" fill="#fff" stroke="#1a1a1a" stroke-width="1.0"/>
<circle cx="56.70" cy="398.40" r="1.7" fill="#fff" stroke="#1a1a1a" stroke-width="1.0"/>
<circle cx="69.80" cy="398.06" r="1.7" fill="#fff" stroke="#1a1a1a" stroke-width="1.0"/>
<circle cx="79.20" cy="395.54" r="1.7" fill="#fff" stroke="#1a1a1a" stroke-width="1.0"/>
<circle cx="83.80" cy="392.69" r="1.7" fill="none" stroke="#1a1a1a" stroke-width="1.0"/>
<circle cx="86.30" cy="389.49" r="1.7" fill="none" stroke="#1a1a1a" stroke-width="1.0"/>
<circle cx="92.90" cy="377.09" r="1.7" fill="#fff" stroke="#1a1a1a" stroke-width="1.0"/>
<circle cx="96.50" cy="369.89" r="1.7" fill="none" stroke="#1a1a1a" stroke-width="1.0"/>
<circle cx="99.20" cy="362.63" r="1.7" fill="none" stroke="#1a1a1a" stroke-width="1.0"/>
<circle cx="101.50" cy="356.49" r="1.7" fill="none" stroke="#1a1a1a" stroke-width="1.0"/>
<circle cx="103.80" cy="351.45" r="1.7" fill="none" stroke="#1a1a1a" stroke-width="1.0"/>
<circle cx="106.90" cy="344.89" r="1.7" fill="none" stroke="#1a1a1a" stroke-width="1.0"/>
<circle cx="108.80" cy="341.70" r="1.7" fill="none" stroke="#1a1a1a" stroke-width="1.0"/>
<circle cx="110.50" cy="339.12" r="1.7" fill="none" stroke="#1a1a1a" stroke-width="1.0"/>
<circle cx="112.00" cy="336.99" r="1.7" fill="none" stroke="#1a1a1a" stroke-width="1.0"/>
<circle cx="112.55" cy="336.34" r="1.7" fill="none" stroke="#1a1a1a" stroke-width="1.0"/>
<circle cx="114.31" cy="334.78" r="1.7" fill="none" stroke="#1a1a1a" stroke-width="1.0"/>
<circle cx="114.98" cy="334.36" r="1.7" fill="none" stroke="#1a1a1a" stroke-width="1.0"/>
<circle cx="115.86" cy="333.96" r="1.7" fill="none" stroke="#1a1a1a" stroke-width="1.0"/>
<circle cx="116.97" cy="333.70" r="1.7" fill="none" stroke="#1a1a1a" stroke-width="1.0"/>
<circle cx="118.90" cy="333.74" r="1.7" fill="none" stroke="#1a1a1a" stroke-width="1.0"/>
<circle cx="119.49" cy="333.85" r="1.7" fill="none" stroke="#1a1a1a" stroke-width="1.0"/>
<circle cx="120.70" cy="334.28" r="1.7" fill="none" stroke="#1a1a1a" stroke-width="1.0"/>
<circle cx="122.09" cy="334.96" r="1.7" fill="none" stroke="#1a1a1a" stroke-width="1.0"/>
<circle cx="124.04" cy="336.14" r="1.7" fill="none" stroke="#1a1a1a" stroke-width="1.0"/>
<circle cx="125.87" cy="337.31" r="1.7" fill="none" stroke="#1a1a1a" stroke-width="1.0"/>
<circle cx="127.79" cy="338.55" r="1.7" fill="none" stroke="#1a1a1a" stroke-width="1.0"/>
<circle cx="128.72" cy="339.15" r="1.7" fill="none" stroke="#1a1a1a" stroke-width="1.0"/>
<circle cx="129.87" cy="339.84" r="1.7" fill="none" stroke="#1a1a1a" stroke-width="1.0"/>
<circle cx="130.93" cy="340.45" r="1.7" fill="none" stroke="#1a1a1a" stroke-width="1.0"/>
<circle cx="132.88" cy="341.46" r="1.7" fill="none" stroke="#1a1a1a" stroke-width="1.0"/>
<circle cx="134.96" cy="342.30" r="1.7" fill="none" stroke="#1a1a1a" stroke-width="1.0"/>
<circle cx="135.67" cy="342.56" r="1.7" fill="none" stroke="#1a1a1a" stroke-width="1.0"/>
<circle cx="136.42" cy="342.81" r="1.7" fill="none" stroke="#1a1a1a" stroke-width="1.0"/>
<circle cx="137.27" cy="343.09" r="1.7" fill="none" stroke="#1a1a1a" stroke-width="1.0"/>
<circle cx="138.12" cy="343.35" r="1.7" fill="none" stroke="#1a1a1a" stroke-width="1.0"/>
<circle cx="139.39" cy="343.73" r="1.7" fill="none" stroke="#1a1a1a" stroke-width="1.0"/>
<circle cx="140.84" cy="344.14" r="1.7" fill="none" stroke="#1a1a1a" stroke-width="1.0"/>
<circle cx="141.74" cy="344.41" r="1.7" fill="none" stroke="#1a1a1a" stroke-width="1.0"/>
<circle cx="142.20" cy="344.54" r="1.7" fill="none" stroke="#1a1a1a" stroke-width="1.0"/>
<circle cx="143.36" cy="344.86" r="1.7" fill="none" stroke="#1a1a1a" stroke-width="1.0"/>
<circle cx="144.44" cy="345.09" r="1.7" fill="none" stroke="#1a1a1a" stroke-width="1.0"/>
<circle cx="145.86" cy="345.28" r="1.7" fill="none" stroke="#1a1a1a" stroke-width="1.0"/>
<circle cx="147.92" cy="345.26" r="1.7" fill="none" stroke="#1a1a1a" stroke-width="1.0"/>
<circle cx="149.54" cy="345.05" r="1.7" fill="none" stroke="#1a1a1a" stroke-width="1.0"/>
<circle cx="150.87" cy="344.80" r="1.7" fill="none" stroke="#1a1a1a" stroke-width="1.0"/>
<circle cx="152.37" cy="344.46" r="1.7" fill="none" stroke="#1a1a1a" stroke-width="1.0"/>
<circle cx="153.97" cy="344.02" r="1.7" fill="none" stroke="#1a1a1a" stroke-width="1.0"/>
<circle cx="154.51" cy="343.85" r="1.7" fill="none" stroke="#1a1a1a" stroke-width="1.0"/>
<circle cx="156.49" cy="343.16" r="1.7" fill="none" stroke="#1a1a1a" stroke-width="1.0"/>
<circle cx="158.26" cy="342.51" r="1.7" fill="none" stroke="#1a1a1a" stroke-width="1.0"/>
<circle cx="163.00" cy="340.76" r="1.7" fill="#fff" stroke="#1a1a1a" stroke-width="1.0"/>
<circle cx="166.50" cy="339.40" r="1.7" fill="#fff" stroke="#1a1a1a" stroke-width="1.0"/>
<circle cx="171.00" cy="337.59" r="1.7" fill="#fff" stroke="#1a1a1a" stroke-width="1.0"/>
<circle cx="177.00" cy="335.07" r="1.7" fill="#fff" stroke="#1a1a1a" stroke-width="1.0"/>
<circle cx="184.50" cy="331.63" r="1.7" fill="#fff" stroke="#1a1a1a" stroke-width="1.0"/>
<circle cx="192.60" cy="328.60" r="1.7" fill="#fff" stroke="#1a1a1a" stroke-width="1.0"/>
<circle cx="235.80" cy="312.70" r="1.7" fill="#fff" stroke="#1a1a1a" stroke-width="1.0"/>
<text x="266.50" y="240.00" font-size="17.00" text-anchor="start" font-weight="normal" fill="#000" stroke="#000" stroke-width="0.35">D</text>
<text x="414.55" y="244.60" font-size="9.50" text-anchor="middle" font-weight="normal" fill="#111" textLength="117.90" lengthAdjust="spacingAndGlyphs" stroke="#111" stroke-width="0.45">HLA-DQ, MFI threshold=2000</text>
<g transform="translate(284.60,335.85) rotate(-90)"><text x="0.00" y="0.00" font-size="8.60" text-anchor="middle" font-weight="normal" fill="#111" textLength="149.90" lengthAdjust="spacingAndGlyphs" stroke="#111" stroke-width="0.42">Probability of positive antibody response</text></g>
<line x1="308.50" y1="403.50" x2="519.50" y2="403.50" stroke="#8e8e8e" stroke-width="1.5"/>
<path d="M308.50,404.20 L308.50,252.50 L519.50,252.50 L519.50,404.20" fill="none" stroke="#686868" stroke-width="1.4" stroke-linejoin="miter"/>
<line x1="305.50" y1="398.80" x2="308.50" y2="398.80" stroke="#666" stroke-width="1"/>
<text x="303.20" y="401.00" font-size="6.30" text-anchor="end" font-weight="normal" fill="#444" textLength="7.90" lengthAdjust="spacingAndGlyphs" stroke="#444" stroke-width="0.22">0.0</text>
<line x1="305.50" y1="384.56" x2="308.50" y2="384.56" stroke="#666" stroke-width="1"/>
<text x="303.20" y="386.76" font-size="6.30" text-anchor="end" font-weight="normal" fill="#444" textLength="7.90" lengthAdjust="spacingAndGlyphs" stroke="#444" stroke-width="0.22">0.1</text>
<line x1="305.50" y1="370.32" x2="308.50" y2="370.32" stroke="#666" stroke-width="1"/>
<text x="303.20" y="372.52" font-size="6.30" text-anchor="end" font-weight="normal" fill="#444" textLength="7.90" lengthAdjust="spacingAndGlyphs" stroke="#444" stroke-width="0.22">0.2</text>
<line x1="305.50" y1="356.08" x2="308.50" y2="356.08" stroke="#666" stroke-width="1"/>
<text x="303.20" y="358.28" font-size="6.30" text-anchor="end" font-weight="normal" fill="#444" textLength="7.90" lengthAdjust="spacingAndGlyphs" stroke="#444" stroke-width="0.22">0.3</text>
<line x1="305.50" y1="341.84" x2="308.50" y2="341.84" stroke="#666" stroke-width="1"/>
<text x="303.20" y="344.04" font-size="6.30" text-anchor="end" font-weight="normal" fill="#444" textLength="7.90" lengthAdjust="spacingAndGlyphs" stroke="#444" stroke-width="0.22">0.4</text>
<line x1="305.50" y1="327.60" x2="308.50" y2="327.60" stroke="#666" stroke-width="1"/>
<text x="303.20" y="329.80" font-size="6.30" text-anchor="end" font-weight="normal" fill="#444" textLength="7.90" lengthAdjust="spacingAndGlyphs" stroke="#444" stroke-width="0.22">0.5</text>
<line x1="305.50" y1="313.36" x2="308.50" y2="313.36" stroke="#666" stroke-width="1"/>
<text x="303.20" y="315.56" font-size="6.30" text-anchor="end" font-weight="normal" fill="#444" textLength="7.90" lengthAdjust="spacingAndGlyphs" stroke="#444" stroke-width="0.22">0.6</text>
<line x1="305.50" y1="299.12" x2="308.50" y2="299.12" stroke="#666" stroke-width="1"/>
<text x="303.20" y="301.32" font-size="6.30" text-anchor="end" font-weight="normal" fill="#444" textLength="7.90" lengthAdjust="spacingAndGlyphs" stroke="#444" stroke-width="0.22">0.7</text>
<line x1="305.50" y1="284.88" x2="308.50" y2="284.88" stroke="#666" stroke-width="1"/>
<text x="303.20" y="287.08" font-size="6.30" text-anchor="end" font-weight="normal" fill="#444" textLength="7.90" lengthAdjust="spacingAndGlyphs" stroke="#444" stroke-width="0.22">0.8</text>
<line x1="305.50" y1="270.64" x2="308.50" y2="270.64" stroke="#666" stroke-width="1"/>
<text x="303.20" y="272.84" font-size="6.30" text-anchor="end" font-weight="normal" fill="#444" textLength="7.90" lengthAdjust="spacingAndGlyphs" stroke="#444" stroke-width="0.22">0.9</text>
<line x1="305.50" y1="256.40" x2="308.50" y2="256.40" stroke="#666" stroke-width="1"/>
<text x="303.20" y="258.60" font-size="6.30" text-anchor="end" font-weight="normal" fill="#444" textLength="7.90" lengthAdjust="spacingAndGlyphs" stroke="#444" stroke-width="0.22">1.0</text>
<line x1="312.70" y1="404.20" x2="312.70" y2="406.70" stroke="#666" stroke-width="1"/>
<text x="311.90" y="414.60" font-size="6.30" text-anchor="middle" font-weight="normal" fill="#444" textLength="7.90" lengthAdjust="spacingAndGlyphs" stroke="#444" stroke-width="0.22">0.0</text>
<line x1="353.30" y1="404.20" x2="353.30" y2="406.70" stroke="#666" stroke-width="1"/>
<text x="352.50" y="414.60" font-size="6.30" text-anchor="middle" font-weight="normal" fill="#444" textLength="7.90" lengthAdjust="spacingAndGlyphs" stroke="#444" stroke-width="0.22">0.1</text>
<line x1="393.90" y1="404.20" x2="393.90" y2="406.70" stroke="#666" stroke-width="1"/>
<text x="393.10" y="414.60" font-size="6.30" text-anchor="middle" font-weight="normal" fill="#444" textLength="7.90" lengthAdjust="spacingAndGlyphs" stroke="#444" stroke-width="0.22">0.2</text>
<line x1="434.50" y1="404.20" x2="434.50" y2="406.70" stroke="#666" stroke-width="1"/>
<text x="433.70" y="414.60" font-size="6.30" text-anchor="middle" font-weight="normal" fill="#444" textLength="7.90" lengthAdjust="spacingAndGlyphs" stroke="#444" stroke-width="0.22">0.3</text>
<line x1="475.10" y1="404.20" x2="475.10" y2="406.70" stroke="#666" stroke-width="1"/>
<text x="474.30" y="414.60" font-size="6.30" text-anchor="middle" font-weight="normal" fill="#444" textLength="7.90" lengthAdjust="spacingAndGlyphs" stroke="#444" stroke-width="0.22">0.4</text>
<line x1="515.70" y1="404.20" x2="515.70" y2="406.70" stroke="#666" stroke-width="1"/>
<text x="514.90" y="414.60" font-size="6.30" text-anchor="middle" font-weight="normal" fill="#444" textLength="7.90" lengthAdjust="spacingAndGlyphs" stroke="#444" stroke-width="0.22">0.5</text>
<text x="414.40" y="425.30" font-size="6.40" text-anchor="middle" font-weight="bold" fill="#111" textLength="21.20" lengthAdjust="spacingAndGlyphs">EMS3D</text>
<rect x="317.50" y="429.50" width="193.80" height="9.00" fill="#fff" stroke="#555" stroke-width="1.1"/>
<line x1="319.80" y1="434.00" x2="343.80" y2="434.00" stroke="#222" stroke-width="1.2"/>
<text x="346.70" y="436.00" font-size="5.60" text-anchor="start" font-weight="bold" fill="#3a3a3a" textLength="21.80" lengthAdjust="spacingAndGlyphs">Estimate</text>
<line x1="375.50" y1="434.00" x2="397.70" y2="434.00" stroke="#888" stroke-width="1" stroke-dasharray="5,3.5"/>
<text x="402.00" y="436.00" font-size="5.60" text-anchor="start" font-weight="bold" fill="#3a3a3a" textLength="36.60" lengthAdjust="spacingAndGlyphs">Upper 95% CL</text>
<line x1="443.80" y1="434.00" x2="466.30" y2="434.00" stroke="#888" stroke-width="1" stroke-dasharray="5,3.5"/>
<text x="470.70" y="436.00" font-size="5.60" text-anchor="start" font-weight="bold" fill="#3a3a3a" textLength="37.50" lengthAdjust="spacingAndGlyphs">Lower 95% CL</text>
<path d="M312.10,380.29 C313.24,380.02 316.65,379.25 318.92,378.67 C321.20,378.09 323.47,377.47 325.75,376.80 C328.02,376.14 330.30,375.43 332.57,374.68 C334.85,373.93 337.12,373.14 339.40,372.30 C341.67,371.45 343.95,370.57 346.22,369.64 C348.50,368.71 350.77,367.73 353.04,366.71 C355.32,365.69 357.59,364.62 359.87,363.51 C362.14,362.40 364.42,361.24 366.69,360.04 C368.97,358.84 371.24,357.60 373.52,356.31 C375.79,355.03 378.07,353.70 380.34,352.33 C382.62,350.97 384.89,349.56 387.17,348.12 C389.44,346.68 391.71,345.20 393.99,343.69 C396.26,342.18 398.54,340.63 400.81,339.06 C403.09,337.48 405.36,335.88 407.64,334.25 C409.91,332.63 412.19,330.97 414.46,329.30 C416.74,327.63 419.01,325.94 421.29,324.23 C423.56,322.53 425.84,320.81 428.11,319.09 C430.39,317.36 432.66,315.63 434.93,313.89 C437.21,312.16 439.48,310.42 441.76,308.70 C444.03,306.97 446.31,305.25 448.58,303.54 C450.86,301.84 453.13,300.14 455.41,298.47 C457.68,296.81 459.96,295.15 462.23,293.54 C464.51,291.93 466.78,290.34 469.06,288.80 C471.33,287.26 473.60,285.76 475.88,284.31 C478.15,282.87 480.43,281.46 482.70,280.13 C484.98,278.80 487.25,277.52 489.53,276.32 C491.80,275.13 494.08,273.99 496.35,272.96 C498.63,271.92 500.90,270.96 503.18,270.10 C505.45,269.25 508.86,268.21 510.00,267.83" fill="none" stroke="#8a8a8a" stroke-width="1.15" stroke-dasharray="5.5,3.2"/>
<path d="M312.10,395.99 C313.24,395.65 316.65,394.55 318.92,393.97 C321.20,393.38 323.47,392.94 325.75,392.50 C328.02,392.06 330.30,391.71 332.57,391.33 C334.85,390.95 337.12,390.62 339.40,390.23 C341.67,389.85 343.95,389.47 346.22,389.03 C348.50,388.58 350.77,388.12 353.04,387.57 C355.32,387.03 357.59,386.44 359.87,385.76 C362.14,385.08 364.42,384.34 366.69,383.50 C368.97,382.67 371.24,381.76 373.52,380.76 C375.79,379.76 378.07,378.68 380.34,377.51 C382.62,376.34 384.89,375.08 387.17,373.74 C389.44,372.41 391.71,370.98 393.99,369.49 C396.26,367.99 398.54,366.42 400.81,364.78 C403.09,363.14 405.36,361.43 407.64,359.67 C409.91,357.92 412.19,356.09 414.46,354.23 C416.74,352.38 419.01,350.47 421.29,348.54 C423.56,346.61 425.84,344.64 428.11,342.67 C430.39,340.70 432.66,338.70 434.93,336.72 C437.21,334.74 439.48,332.74 441.76,330.77 C444.03,328.80 446.31,326.84 448.58,324.92 C450.86,322.99 453.13,321.09 455.41,319.24 C457.68,317.39 459.96,315.57 462.23,313.81 C464.51,312.06 466.78,310.35 469.06,308.72 C471.33,307.08 473.60,305.50 475.88,304.00 C478.15,302.50 480.43,301.06 482.70,299.71 C484.98,298.35 487.25,297.07 489.53,295.87 C491.80,294.66 494.08,293.53 496.35,292.48 C498.63,291.42 500.90,290.45 503.18,289.53 C505.45,288.61 508.86,287.41 510.00,286.98" fill="none" stroke="#8a8a8a" stroke-width="1.15" stroke-dasharray="5.5,3.2"/>
<path d="M312.70,391.25 C314.08,391.00 318.20,390.27 320.96,389.71 C323.71,389.15 326.46,388.55 329.21,387.88 C331.96,387.22 334.71,386.50 337.47,385.72 C340.22,384.94 342.97,384.10 345.72,383.18 C348.47,382.27 351.22,381.29 353.98,380.22 C356.73,379.16 359.48,378.02 362.23,376.80 C364.98,375.57 367.74,374.27 370.49,372.87 C373.24,371.48 375.99,370.00 378.74,368.43 C381.49,366.85 384.25,365.19 387.00,363.45 C389.75,361.70 392.50,359.86 395.25,357.95 C398.01,356.04 400.76,354.03 403.51,351.97 C406.26,349.91 409.01,347.76 411.76,345.58 C414.52,343.39 417.27,341.14 420.02,338.86 C422.77,336.58 425.52,334.25 428.27,331.93 C431.03,329.60 433.78,327.24 436.53,324.91 C439.28,322.58 442.03,320.24 444.79,317.95 C447.54,315.66 450.29,313.38 453.04,311.17 C455.79,308.96 458.54,306.78 461.30,304.69 C464.05,302.60 466.80,300.56 469.55,298.61 C472.30,296.66 475.05,294.78 477.81,293.00 C480.56,291.21 483.31,289.51 486.06,287.89 C488.81,286.28 491.57,284.76 494.32,283.32 C497.07,281.89 499.82,280.54 502.57,279.28 C505.32,278.01 509.45,276.33 510.83,275.74" fill="none" stroke="#111" stroke-width="1.25"/>
<circle cx="312.10" cy="391.25" r="1.7" fill="#fff" stroke="#1a1a1a" stroke-width="1.0"/>
<circle cx="330.80" cy="387.49" r="1.7" fill="#fff" stroke="#1a1a1a" stroke-width="1.0"/>
<circle cx="353.30" cy="380.48" r="1.7" fill="#fff" stroke="#1a1a1a" stroke-width="1.0"/>
<circle cx="372.80" cy="371.68" r="1.7" fill="none" stroke="#1a1a1a" stroke-width="1.0"/>
<circle cx="375.00" cy="370.51" r="1.7" fill="none" stroke="#1a1a1a" stroke-width="1.0"/>
<circle cx="377.00" cy="369.41" r="1.7" fill="none" stroke="#1a1a1a" stroke-width="1.0"/>
<circle cx="380.40" cy="367.47" r="1.7" fill="#fff" stroke="#1a1a1a" stroke-width="1.0"/>
<circle cx="389.50" cy="361.83" r="1.7" fill="none" stroke="#1a1a1a" stroke-width="1.0"/>
<circle cx="391.50" cy="360.51" r="1.7" fill="none" stroke="#1a1a1a" stroke-width="1.0"/>
<circle cx="393.50" cy="359.16" r="1.7" fill="none" stroke="#1a1a1a" stroke-width="1.0"/>
<circle cx="395.60" cy="357.71" r="1.7" fill="none" stroke="#1a1a1a" stroke-width="1.0"/>
<circle cx="410.90" cy="346.26" r="1.7" fill="none" stroke="#1a1a1a" stroke-width="1.0"/>
<circle cx="412.50" cy="344.99" r="1.7" fill="none" stroke="#1a1a1a" stroke-width="1.0"/>
<circle cx="417.10" cy="341.26" r="1.7" fill="#fff" stroke="#1a1a1a" stroke-width="1.0"/>
<circle cx="421.70" cy="337.46" r="1.7" fill="#fff" stroke="#1a1a1a" stroke-width="1.0"/>
<circle cx="431.30" cy="329.36" r="1.7" fill="#fff" stroke="#1a1a1a" stroke-width="1.0"/>
<circle cx="442.50" cy="319.86" r="1.7" fill="none" stroke="#1a1a1a" stroke-width="1.0"/>
<circle cx="444.00" cy="318.61" r="1.7" fill="none" stroke="#1a1a1a" stroke-width="1.0"/>
<circle cx="447.00" cy="316.11" r="1.7" fill="#fff" stroke="#1a1a1a" stroke-width="1.0"/>
<circle cx="451.00" cy="312.82" r="1.7" fill="none" stroke="#1a1a1a" stroke-width="1.0"/>
<circle cx="453.70" cy="310.64" r="1.7" fill="none" stroke="#1a1a1a" stroke-width="1.0"/>
<circle cx="455.50" cy="309.21" r="1.7" fill="none" stroke="#1a1a1a" stroke-width="1.0"/>
<circle cx="459.30" cy="306.22" r="1.7" fill="#fff" stroke="#1a1a1a" stroke-width="1.0"/>
<circle cx="465.00" cy="301.91" r="1.7" fill="none" stroke="#1a1a1a" stroke-width="1.0"/>
<circle cx="467.77" cy="299.88" r="1.7" fill="none" stroke="#1a1a1a" stroke-width="1.0"/>
<circle cx="469.49" cy="298.65" r="1.7" fill="none" stroke="#1a1a1a" stroke-width="1.0"/>
<circle cx="471.23" cy="297.43" r="1.7" fill="none" stroke="#1a1a1a" stroke-width="1.0"/>
<circle cx="472.20" cy="296.75" r="1.7" fill="none" stroke="#1a1a1a" stroke-width="1.0"/>
<circle cx="474.55" cy="295.15" r="1.7" fill="none" stroke="#1a1a1a" stroke-width="1.0"/>
<circle cx="475.41" cy="294.57" r="1.7" fill="none" stroke="#1a1a1a" stroke-width="1.0"/>
<circle cx="476.29" cy="293.99" r="1.7" fill="none" stroke="#1a1a1a" stroke-width="1.0"/>
<circle cx="477.53" cy="293.18" r="1.7" fill="none" stroke="#1a1a1a" stroke-width="1.0"/>
<circle cx="478.65" cy="292.45" r="1.7" fill="none" stroke="#1a1a1a" stroke-width="1.0"/>
<circle cx="480.24" cy="291.44" r="1.7" fill="none" stroke="#1a1a1a" stroke-width="1.0"/>
<circle cx="481.07" cy="290.91" r="1.7" fill="none" stroke="#1a1a1a" stroke-width="1.0"/>
<circle cx="481.77" cy="290.48" r="1.7" fill="none" stroke="#1a1a1a" stroke-width="1.0"/>
<circle cx="482.87" cy="289.81" r="1.7" fill="none" stroke="#1a1a1a" stroke-width="1.0"/>
<circle cx="483.83" cy="289.22" r="1.7" fill="none" stroke="#1a1a1a" stroke-width="1.0"/>
<circle cx="485.48" cy="288.24" r="1.7" fill="none" stroke="#1a1a1a" stroke-width="1.0"/>
<circle cx="486.24" cy="287.79" r="1.7" fill="none" stroke="#1a1a1a" stroke-width="1.0"/>
<circle cx="489.22" cy="286.08" r="1.7" fill="none" stroke="#1a1a1a" stroke-width="1.0"/>
<circle cx="491.51" cy="284.82" r="1.7" fill="none" stroke="#1a1a1a" stroke-width="1.0"/>
<circle cx="492.60" cy="284.23" r="1.7" fill="none" stroke="#1a1a1a" stroke-width="1.0"/>
<circle cx="493.95" cy="283.51" r="1.7" fill="none" stroke="#1a1a1a" stroke-width="1.0"/>
<circle cx="495.56" cy="282.68" r="1.7" fill="none" stroke="#1a1a1a" stroke-width="1.0"/>
<circle cx="497.20" cy="281.85" r="1.7" fill="none" stroke="#1a1a1a" stroke-width="1.0"/>
<circle cx="498.22" cy="281.34" r="1.7" fill="none" stroke="#1a1a1a" stroke-width="1.0"/>
<circle cx="503.10" cy="279.04" r="1.7" fill="#fff" stroke="#1a1a1a" stroke-width="1.0"/>
<circle cx="510.80" cy="275.75" r="1.7" fill="#fff" stroke="#1a1a1a" stroke-width="1.0"/>
<text x="-0.20" y="465.00" font-size="17.00" text-anchor="start" font-weight="normal" fill="#000" stroke="#000" stroke-width="0.35">E</text>
<text x="140.85" y="470.20" font-size="9.50" text-anchor="middle" font-weight="normal" fill="#111" textLength="116.30" lengthAdjust="spacingAndGlyphs" stroke="#111" stroke-width="0.45">HLA-DP, MFI threshold=2000</text>
<g transform="translate(9.60,555.15) rotate(-90)"><text x="0.00" y="0.00" font-size="8.60" text-anchor="middle" font-weight="normal" fill="#111" textLength="150.50" lengthAdjust="spacingAndGlyphs" stroke="#111" stroke-width="0.42">Probability of positive antibody response</text></g>
<line x1="34.40" y1="629.00" x2="246.20" y2="629.00" stroke="#8e8e8e" stroke-width="1.5"/>
<path d="M34.40,629.70 L34.40,478.30 L246.20,478.30 L246.20,629.70" fill="none" stroke="#686868" stroke-width="1.4" stroke-linejoin="miter"/>
<line x1="31.40" y1="624.20" x2="34.40" y2="624.20" stroke="#666" stroke-width="1"/>
<text x="29.10" y="626.40" font-size="6.30" text-anchor="end" font-weight="normal" fill="#444" textLength="7.90" lengthAdjust="spacingAndGlyphs" stroke="#444" stroke-width="0.22">0.0</text>
<line x1="31.40" y1="610.03" x2="34.40" y2="610.03" stroke="#666" stroke-width="1"/>
<text x="29.10" y="612.23" font-size="6.30" text-anchor="end" font-weight="normal" fill="#444" textLength="7.90" lengthAdjust="spacingAndGlyphs" stroke="#444" stroke-width="0.22">0.1</text>
<line x1="31.40" y1="595.86" x2="34.40" y2="595.86" stroke="#666" stroke-width="1"/>
<text x="29.10" y="598.06" font-size="6.30" text-anchor="end" font-weight="normal" fill="#444" textLength="7.90" lengthAdjust="spacingAndGlyphs" stroke="#444" stroke-width="0.22">0.2</text>
<line x1="31.40" y1="581.69" x2="34.40" y2="581.69" stroke="#666" stroke-width="1"/>
<text x="29.10" y="583.89" font-size="6.30" text-anchor="end" font-weight="normal" fill="#444" textLength="7.90" lengthAdjust="spacingAndGlyphs" stroke="#444" stroke-width="0.22">0.3</text>
<line x1="31.40" y1="567.52" x2="34.40" y2="567.52" stroke="#666" stroke-width="1"/>
<text x="29.10" y="569.72" font-size="6.30" text-anchor="end" font-weight="normal" fill="#444" textLength="7.90" lengthAdjust="spacingAndGlyphs" stroke="#444" stroke-width="0.22">0.4</text>
<line x1="31.40" y1="553.35" x2="34.40" y2="553.35" stroke="#666" stroke-width="1"/>
<text x="29.10" y="555.55" font-size="6.30" text-anchor="end" font-weight="normal" fill="#444" textLength="7.90" lengthAdjust="spacingAndGlyphs" stroke="#444" stroke-width="0.22">0.5</text>
<line x1="31.40" y1="539.18" x2="34.40" y2="539.18" stroke="#666" stroke-width="1"/>
<text x="29.10" y="541.38" font-size="6.30" text-anchor="end" font-weight="normal" fill="#444" textLength="7.90" lengthAdjust="spacingAndGlyphs" stroke="#444" stroke-width="0.22">0.6</text>
<line x1="31.40" y1="525.01" x2="34.40" y2="525.01" stroke="#666" stroke-width="1"/>
<text x="29.10" y="527.21" font-size="6.30" text-anchor="end" font-weight="normal" fill="#444" textLength="7.90" lengthAdjust="spacingAndGlyphs" stroke="#444" stroke-width="0.22">0.7</text>
<line x1="31.40" y1="510.84" x2="34.40" y2="510.84" stroke="#666" stroke-width="1"/>
<text x="29.10" y="513.04" font-size="6.30" text-anchor="end" font-weight="normal" fill="#444" textLength="7.90" lengthAdjust="spacingAndGlyphs" stroke="#444" stroke-width="0.22">0.8</text>
<line x1="31.40" y1="496.67" x2="34.40" y2="496.67" stroke="#666" stroke-width="1"/>
<text x="29.10" y="498.87" font-size="6.30" text-anchor="end" font-weight="normal" fill="#444" textLength="7.90" lengthAdjust="spacingAndGlyphs" stroke="#444" stroke-width="0.22">0.9</text>
<line x1="31.40" y1="482.50" x2="34.40" y2="482.50" stroke="#666" stroke-width="1"/>
<text x="29.10" y="484.70" font-size="6.30" text-anchor="end" font-weight="normal" fill="#444" textLength="7.90" lengthAdjust="spacingAndGlyphs" stroke="#444" stroke-width="0.22">1.0</text>
<line x1="52.80" y1="629.70" x2="52.80" y2="632.20" stroke="#666" stroke-width="1"/>
<text x="52.00" y="640.10" font-size="6.30" text-anchor="middle" font-weight="normal" fill="#444" textLength="7.90" lengthAdjust="spacingAndGlyphs" stroke="#444" stroke-width="0.22">0.1</text>
<line x1="115.70" y1="629.70" x2="115.70" y2="632.20" stroke="#666" stroke-width="1"/>
<text x="114.90" y="640.10" font-size="6.30" text-anchor="middle" font-weight="normal" fill="#444" textLength="7.90" lengthAdjust="spacingAndGlyphs" stroke="#444" stroke-width="0.22">0.2</text>
<line x1="178.60" y1="629.70" x2="178.60" y2="632.20" stroke="#666" stroke-width="1"/>
<text x="177.80" y="640.10" font-size="6.30" text-anchor="middle" font-weight="normal" fill="#444" textLength="7.90" lengthAdjust="spacingAndGlyphs" stroke="#444" stroke-width="0.22">0.3</text>
<line x1="241.50" y1="629.70" x2="241.50" y2="632.20" stroke="#666" stroke-width="1"/>
<text x="240.70" y="640.10" font-size="6.30" text-anchor="middle" font-weight="normal" fill="#444" textLength="7.90" lengthAdjust="spacingAndGlyphs" stroke="#444" stroke-width="0.22">0.4</text>
<text x="140.60" y="648.70" font-size="6.40" text-anchor="middle" font-weight="bold" fill="#111" textLength="21.20" lengthAdjust="spacingAndGlyphs">EMS3D</text>
<rect x="43.40" y="654.80" width="193.80" height="9.00" fill="#fff" stroke="#555" stroke-width="1.1"/>
<line x1="45.70" y1="659.30" x2="69.70" y2="659.30" stroke="#222" stroke-width="1.2"/>
<text x="72.60" y="661.30" font-size="5.60" text-anchor="start" font-weight="bold" fill="#3a3a3a" textLength="21.80" lengthAdjust="spacingAndGlyphs">Estimate</text>
<line x1="101.40" y1="659.30" x2="123.60" y2="659.30" stroke="#888" stroke-width="1" stroke-dasharray="5,3.5"/>
<text x="127.90" y="661.30" font-size="5.60" text-anchor="start" font-weight="bold" fill="#3a3a3a" textLength="36.60" lengthAdjust="spacingAndGlyphs">Upper 95% CL</text>
<line x1="169.70" y1="659.30" x2="192.20" y2="659.30" stroke="#888" stroke-width="1" stroke-dasharray="5,3.5"/>
<text x="196.60" y="661.30" font-size="5.60" text-anchor="start" font-weight="bold" fill="#3a3a3a" textLength="37.50" lengthAdjust="spacingAndGlyphs">Lower 95% CL</text>
<path d="M38.50,602.39 C39.57,602.02 42.79,600.75 44.94,600.13 C47.09,599.51 49.24,599.07 51.38,598.69 C53.53,598.31 55.68,598.06 57.82,597.83 C59.97,597.60 62.12,597.46 64.27,597.32 C66.41,597.17 68.56,597.09 70.71,596.96 C72.85,596.84 75.00,596.74 77.15,596.59 C79.30,596.44 81.44,596.28 83.59,596.05 C85.74,595.82 87.88,595.56 90.03,595.21 C92.18,594.86 94.33,594.46 96.47,593.97 C98.62,593.47 100.77,592.91 102.91,592.24 C105.06,591.58 107.21,590.83 109.36,589.97 C111.50,589.12 113.65,588.17 115.80,587.12 C117.94,586.07 120.09,584.92 122.24,583.66 C124.39,582.41 126.53,581.05 128.68,579.60 C130.83,578.14 132.97,576.59 135.12,574.94 C137.27,573.30 139.41,571.56 141.56,569.74 C143.71,567.92 145.86,566.01 148.00,564.03 C150.15,562.06 152.30,560.00 154.44,557.90 C156.59,555.80 158.74,553.63 160.89,551.43 C163.03,549.23 165.18,546.98 167.33,544.72 C169.47,542.46 171.62,540.16 173.77,537.89 C175.92,535.61 178.06,533.31 180.21,531.06 C182.36,528.82 184.50,526.57 186.65,524.40 C188.80,522.23 190.95,520.09 193.09,518.05 C195.24,516.02 197.39,514.03 199.53,512.19 C201.68,510.35 203.83,508.59 205.98,507.00 C208.12,505.42 210.27,503.94 212.42,502.68 C214.56,501.41 216.71,500.29 218.86,499.42 C221.01,498.55 224.23,497.78 225.30,497.45" fill="none" stroke="#8a8a8a" stroke-width="1.15" stroke-dasharray="5.5,3.2"/>
<path d="M38.50,621.58 C39.57,621.57 42.79,621.61 44.94,621.52 C47.09,621.43 49.24,621.27 51.38,621.05 C53.53,620.83 55.68,620.55 57.82,620.22 C59.97,619.90 62.12,619.51 64.27,619.09 C66.41,618.67 68.56,618.20 70.71,617.70 C72.85,617.20 75.00,616.66 77.15,616.10 C79.30,615.53 81.44,614.93 83.59,614.32 C85.74,613.70 87.88,613.06 90.03,612.41 C92.18,611.76 94.33,611.08 96.47,610.40 C98.62,609.72 100.77,609.02 102.91,608.33 C105.06,607.63 107.21,606.92 109.36,606.22 C111.50,605.52 113.65,604.81 115.80,604.10 C117.94,603.40 120.09,602.70 122.24,602.01 C124.39,601.31 126.53,600.62 128.68,599.94 C130.83,599.27 132.97,598.60 135.12,597.94 C137.27,597.28 139.41,596.64 141.56,596.00 C143.71,595.37 145.86,594.76 148.00,594.16 C150.15,593.55 152.30,592.97 154.44,592.40 C156.59,591.83 158.74,591.28 160.89,590.74 C163.03,590.21 165.18,589.69 167.33,589.19 C169.47,588.69 171.62,588.21 173.77,587.74 C175.92,587.28 178.06,586.83 180.21,586.40 C182.36,585.97 184.50,585.55 186.65,585.15 C188.80,584.75 190.95,584.37 193.09,584.00 C195.24,583.63 197.39,583.27 199.53,582.92 C201.68,582.57 203.83,582.24 205.98,581.91 C208.12,581.58 210.27,581.27 212.42,580.95 C214.56,580.63 216.71,580.33 218.86,580.02 C221.01,579.71 224.23,579.25 225.30,579.09" fill="none" stroke="#8a8a8a" stroke-width="1.15" stroke-dasharray="5.5,3.2"/>
<path d="M38.50,617.40 C40.97,617.00 48.97,615.72 53.30,615.00 C57.63,614.28 59.53,614.13 64.50,613.10 C69.47,612.07 77.92,610.22 83.10,608.80 C88.28,607.38 92.23,605.62 95.60,604.60 C98.97,603.58 100.90,603.50 103.30,602.70 C105.70,601.90 107.75,600.70 110.00,599.80 C112.25,598.90 114.72,598.20 116.80,597.30 C118.88,596.40 120.58,595.30 122.50,594.40 C124.42,593.50 126.05,593.02 128.30,591.90 C130.55,590.78 132.87,589.35 136.00,587.70 C139.13,586.05 143.55,583.98 147.10,582.00 C150.65,580.02 153.73,577.95 157.30,575.80 C160.87,573.65 164.08,571.92 168.50,569.10 C172.92,566.28 179.38,561.95 183.80,558.90 C188.22,555.85 192.45,552.57 195.00,550.80 C197.55,549.03 194.07,551.53 199.10,548.30 C204.13,545.07 220.85,534.22 225.20,531.40" fill="none" stroke="#111" stroke-width="1.25"/>
<circle cx="38.50" cy="617.40" r="1.7" fill="#fff" stroke="#1a1a1a" stroke-width="1.0"/>
<circle cx="53.40" cy="614.98" r="1.7" fill="none" stroke="#1a1a1a" stroke-width="1.0"/>
<circle cx="54.50" cy="614.81" r="1.7" fill="none" stroke="#1a1a1a" stroke-width="1.0"/>
<circle cx="64.60" cy="613.08" r="1.7" fill="#fff" stroke="#1a1a1a" stroke-width="1.0"/>
<circle cx="82.90" cy="608.85" r="1.7" fill="#fff" stroke="#1a1a1a" stroke-width="1.0"/>
<circle cx="86.00" cy="607.94" r="1.7" fill="none" stroke="#1a1a1a" stroke-width="1.0"/>
<circle cx="88.00" cy="607.27" r="1.7" fill="none" stroke="#1a1a1a" stroke-width="1.0"/>
<circle cx="90.50" cy="606.38" r="1.7" fill="none" stroke="#1a1a1a" stroke-width="1.0"/>
<circle cx="93.00" cy="605.47" r="1.7" fill="none" stroke="#1a1a1a" stroke-width="1.0"/>
<circle cx="95.20" cy="604.72" r="1.7" fill="none" stroke="#1a1a1a" stroke-width="1.0"/>
<circle cx="103.30" cy="602.70" r="1.7" fill="none" stroke="#1a1a1a" stroke-width="1.0"/>
<circle cx="105.50" cy="601.84" r="1.7" fill="none" stroke="#1a1a1a" stroke-width="1.0"/>
<circle cx="107.50" cy="600.91" r="1.7" fill="none" stroke="#1a1a1a" stroke-width="1.0"/>
<circle cx="109.80" cy="599.88" r="1.7" fill="none" stroke="#1a1a1a" stroke-width="1.0"/>
<circle cx="116.60" cy="597.39" r="1.7" fill="#fff" stroke="#1a1a1a" stroke-width="1.0"/>
<circle cx="120.00" cy="595.69" r="1.7" fill="#fff" stroke="#1a1a1a" stroke-width="1.0"/>
<circle cx="123.70" cy="593.87" r="1.7" fill="#fff" stroke="#1a1a1a" stroke-width="1.0"/>
<circle cx="128.80" cy="591.65" r="1.7" fill="#fff" stroke="#1a1a1a" stroke-width="1.0"/>
<circle cx="139.00" cy="586.17" r="1.7" fill="none" stroke="#1a1a1a" stroke-width="1.0"/>
<circle cx="141.00" cy="585.17" r="1.7" fill="none" stroke="#1a1a1a" stroke-width="1.0"/>
<circle cx="147.10" cy="582.00" r="1.7" fill="#fff" stroke="#1a1a1a" stroke-width="1.0"/>
<circle cx="154.30" cy="577.65" r="1.7" fill="#fff" stroke="#1a1a1a" stroke-width="1.0"/>
<circle cx="157.30" cy="575.80" r="1.7" fill="#fff" stroke="#1a1a1a" stroke-width="1.0"/>
<circle cx="168.50" cy="569.10" r="1.7" fill="#fff" stroke="#1a1a1a" stroke-width="1.0"/>
<circle cx="183.80" cy="558.90" r="1.7" fill="none" stroke="#1a1a1a" stroke-width="1.0"/>
<circle cx="186.00" cy="557.35" r="1.7" fill="none" stroke="#1a1a1a" stroke-width="1.0"/>
<circle cx="188.90" cy="555.25" r="1.7" fill="none" stroke="#1a1a1a" stroke-width="1.0"/>
<circle cx="192.00" cy="552.97" r="1.7" fill="#fff" stroke="#1a1a1a" stroke-width="1.0"/>
<circle cx="195.00" cy="550.80" r="1.7" fill="#fff" stroke="#1a1a1a" stroke-width="1.0"/>
<circle cx="199.10" cy="548.30" r="1.7" fill="#fff" stroke="#1a1a1a" stroke-width="1.0"/>
<circle cx="225.20" cy="531.40" r="1.7" fill="#fff" stroke="#1a1a1a" stroke-width="1.0"/>
<text x="267.50" y="465.00" font-size="17.00" text-anchor="start" font-weight="normal" fill="#000" stroke="#000" stroke-width="0.35">F</text>
<text x="419.30" y="470.20" font-size="9.50" text-anchor="middle" font-weight="normal" fill="#111" textLength="136.00" lengthAdjust="spacingAndGlyphs" stroke="#111" stroke-width="0.45">Class I and II, MFI threshold=2000</text>
<g transform="translate(284.60,559.70) rotate(-90)"><text x="0.00" y="0.00" font-size="8.60" text-anchor="middle" font-weight="normal" fill="#111" textLength="150.20" lengthAdjust="spacingAndGlyphs" stroke="#111" stroke-width="0.42">Probability of positive antibody response</text></g>
<line x1="307.50" y1="628.80" x2="519.20" y2="628.80" stroke="#8e8e8e" stroke-width="1.5"/>
<path d="M307.50,629.50 L307.50,478.30 L519.20,478.30 L519.20,629.50" fill="none" stroke="#686868" stroke-width="1.4" stroke-linejoin="miter"/>
<line x1="304.50" y1="624.20" x2="307.50" y2="624.20" stroke="#666" stroke-width="1"/>
<text x="302.20" y="626.40" font-size="6.30" text-anchor="end" font-weight="normal" fill="#444" textLength="7.90" lengthAdjust="spacingAndGlyphs" stroke="#444" stroke-width="0.22">0.0</text>
<line x1="304.50" y1="610.03" x2="307.50" y2="610.03" stroke="#666" stroke-width="1"/>
<text x="302.20" y="612.23" font-size="6.30" text-anchor="end" font-weight="normal" fill="#444" textLength="7.90" lengthAdjust="spacingAndGlyphs" stroke="#444" stroke-width="0.22">0.1</text>
<line x1="304.50" y1="595.86" x2="307.50" y2="595.86" stroke="#666" stroke-width="1"/>
<text x="302.20" y="598.06" font-size="6.30" text-anchor="end" font-weight="normal" fill="#444" textLength="7.90" lengthAdjust="spacingAndGlyphs" stroke="#444" stroke-width="0.22">0.2</text>
<line x1="304.50" y1="581.69" x2="307.50" y2="581.69" stroke="#666" stroke-width="1"/>
<text x="302.20" y="583.89" font-size="6.30" text-anchor="end" font-weight="normal" fill="#444" textLength="7.90" lengthAdjust="spacingAndGlyphs" stroke="#444" stroke-width="0.22">0.3</text>
<line x1="304.50" y1="567.52" x2="307.50" y2="567.52" stroke="#666" stroke-width="1"/>
<text x="302.20" y="569.72" font-size="6.30" text-anchor="end" font-weight="normal" fill="#444" textLength="7.90" lengthAdjust="spacingAndGlyphs" stroke="#444" stroke-width="0.22">0.4</text>
<line x1="304.50" y1="553.35" x2="307.50" y2="553.35" stroke="#666" stroke-width="1"/>
<text x="302.20" y="555.55" font-size="6.30" text-anchor="end" font-weight="normal" fill="#444" textLength="7.90" lengthAdjust="spacingAndGlyphs" stroke="#444" stroke-width="0.22">0.5</text>
<line x1="304.50" y1="539.18" x2="307.50" y2="539.18" stroke="#666" stroke-width="1"/>
<text x="302.20" y="541.38" font-size="6.30" text-anchor="end" font-weight="normal" fill="#444" textLength="7.90" lengthAdjust="spacingAndGlyphs" stroke="#444" stroke-width="0.22">0.6</text>
<line x1="304.50" y1="525.01" x2="307.50" y2="525.01" stroke="#666" stroke-width="1"/>
<text x="302.20" y="527.21" font-size="6.30" text-anchor="end" font-weight="normal" fill="#444" textLength="7.90" lengthAdjust="spacingAndGlyphs" stroke="#444" stroke-width="0.22">0.7</text>
<line x1="304.50" y1="510.84" x2="307.50" y2="510.84" stroke="#666" stroke-width="1"/>
<text x="302.20" y="513.04" font-size="6.30" text-anchor="end" font-weight="normal" fill="#444" textLength="7.90" lengthAdjust="spacingAndGlyphs" stroke="#444" stroke-width="0.22">0.8</text>
<line x1="304.50" y1="496.67" x2="307.50" y2="496.67" stroke="#666" stroke-width="1"/>
<text x="302.20" y="498.87" font-size="6.30" text-anchor="end" font-weight="normal" fill="#444" textLength="7.90" lengthAdjust="spacingAndGlyphs" stroke="#444" stroke-width="0.22">0.9</text>
<line x1="304.50" y1="482.50" x2="307.50" y2="482.50" stroke="#666" stroke-width="1"/>
<text x="302.20" y="484.70" font-size="6.30" text-anchor="end" font-weight="normal" fill="#444" textLength="7.90" lengthAdjust="spacingAndGlyphs" stroke="#444" stroke-width="0.22">1.0</text>
<line x1="311.50" y1="629.50" x2="311.50" y2="632.00" stroke="#666" stroke-width="1"/>
<text x="310.70" y="639.90" font-size="6.30" text-anchor="middle" font-weight="normal" fill="#444" textLength="7.90" lengthAdjust="spacingAndGlyphs" stroke="#444" stroke-width="0.22">0.0</text>
<line x1="352.10" y1="629.50" x2="352.10" y2="632.00" stroke="#666" stroke-width="1"/>
<text x="351.30" y="639.90" font-size="6.30" text-anchor="middle" font-weight="normal" fill="#444" textLength="7.90" lengthAdjust="spacingAndGlyphs" stroke="#444" stroke-width="0.22">0.1</text>
<line x1="392.70" y1="629.50" x2="392.70" y2="632.00" stroke="#666" stroke-width="1"/>
<text x="391.90" y="639.90" font-size="6.30" text-anchor="middle" font-weight="normal" fill="#444" textLength="7.90" lengthAdjust="spacingAndGlyphs" stroke="#444" stroke-width="0.22">0.2</text>
<line x1="433.40" y1="629.50" x2="433.40" y2="632.00" stroke="#666" stroke-width="1"/>
<text x="432.60" y="639.90" font-size="6.30" text-anchor="middle" font-weight="normal" fill="#444" textLength="7.90" lengthAdjust="spacingAndGlyphs" stroke="#444" stroke-width="0.22">0.3</text>
<line x1="473.90" y1="629.50" x2="473.90" y2="632.00" stroke="#666" stroke-width="1"/>
<text x="473.10" y="639.90" font-size="6.30" text-anchor="middle" font-weight="normal" fill="#444" textLength="7.90" lengthAdjust="spacingAndGlyphs" stroke="#444" stroke-width="0.22">0.4</text>
<line x1="514.60" y1="629.50" x2="514.60" y2="632.00" stroke="#666" stroke-width="1"/>
<text x="513.80" y="639.90" font-size="6.30" text-anchor="middle" font-weight="normal" fill="#444" textLength="7.90" lengthAdjust="spacingAndGlyphs" stroke="#444" stroke-width="0.22">0.5</text>
<text x="414.40" y="650.30" font-size="6.40" text-anchor="middle" font-weight="bold" fill="#111" textLength="21.20" lengthAdjust="spacingAndGlyphs">EMS3D</text>
<rect x="316.50" y="655.00" width="193.80" height="9.00" fill="#fff" stroke="#555" stroke-width="1.1"/>
<line x1="318.80" y1="659.50" x2="342.80" y2="659.50" stroke="#222" stroke-width="1.2"/>
<text x="345.70" y="661.50" font-size="5.60" text-anchor="start" font-weight="bold" fill="#3a3a3a" textLength="21.80" lengthAdjust="spacingAndGlyphs">Estimate</text>
<line x1="374.50" y1="659.50" x2="396.70" y2="659.50" stroke="#888" stroke-width="1" stroke-dasharray="5,3.5"/>
<text x="401.00" y="661.50" font-size="5.60" text-anchor="start" font-weight="bold" fill="#3a3a3a" textLength="36.60" lengthAdjust="spacingAndGlyphs">Upper 95% CL</text>
<line x1="442.80" y1="659.50" x2="465.30" y2="659.50" stroke="#888" stroke-width="1" stroke-dasharray="5,3.5"/>
<text x="469.70" y="661.50" font-size="5.60" text-anchor="start" font-weight="bold" fill="#3a3a3a" textLength="37.50" lengthAdjust="spacingAndGlyphs">Lower 95% CL</text>
<path d="M311.50,600.10 C312.87,599.67 316.98,598.40 319.73,597.49 C322.47,596.59 325.21,595.65 327.95,594.67 C330.69,593.69 333.43,592.67 336.18,591.61 C338.92,590.56 341.66,589.47 344.40,588.34 C347.14,587.21 349.89,586.04 352.63,584.83 C355.37,583.63 358.11,582.38 360.85,581.10 C363.60,579.82 366.34,578.51 369.08,577.15 C371.82,575.80 374.56,574.41 377.30,572.98 C380.05,571.56 382.79,570.10 385.53,568.60 C388.27,567.10 391.01,565.56 393.76,563.99 C396.50,562.41 399.24,560.80 401.98,559.15 C404.72,557.50 407.46,555.81 410.21,554.08 C412.95,552.35 415.69,550.57 418.43,548.77 C421.17,546.97 423.92,545.12 426.66,543.27 C429.40,541.42 432.14,539.53 434.88,537.67 C437.63,535.81 440.37,533.93 443.11,532.10 C445.85,530.26 448.59,528.44 451.33,526.68 C454.08,524.92 456.82,523.18 459.56,521.52 C462.30,519.86 465.04,518.24 467.79,516.70 C470.53,515.16 473.27,513.68 476.01,512.27 C478.75,510.87 481.49,509.53 484.24,508.26 C486.98,506.99 489.72,505.79 492.46,504.66 C495.20,503.53 497.95,502.48 500.69,501.48 C503.43,500.48 507.54,499.15 508.91,498.68" fill="none" stroke="#8a8a8a" stroke-width="1.15" stroke-dasharray="5.5,3.2"/>
<path d="M311.50,612.57 C312.87,612.22 316.98,611.23 319.73,610.47 C322.47,609.71 325.21,608.91 327.95,608.04 C330.69,607.17 333.43,606.24 336.18,605.25 C338.92,604.25 341.66,603.19 344.40,602.06 C347.14,600.93 349.89,599.74 352.63,598.47 C355.37,597.20 358.11,595.86 360.85,594.46 C363.60,593.05 366.34,591.57 369.08,590.03 C371.82,588.49 374.56,586.87 377.30,585.21 C380.05,583.54 382.79,581.81 385.53,580.04 C388.27,578.28 391.01,576.45 393.76,574.62 C396.50,572.78 399.24,570.90 401.98,569.03 C404.72,567.16 407.46,565.27 410.21,563.41 C412.95,561.55 415.69,559.69 418.43,557.88 C421.17,556.07 423.92,554.29 426.66,552.55 C429.40,550.81 432.14,549.11 434.88,547.45 C437.63,545.79 440.37,544.18 443.11,542.60 C445.85,541.02 448.59,539.49 451.33,537.98 C454.08,536.48 456.82,535.02 459.56,533.59 C462.30,532.17 465.04,530.78 467.79,529.42 C470.53,528.07 473.27,526.75 476.01,525.47 C478.75,524.19 481.49,522.95 484.24,521.75 C486.98,520.54 489.72,519.38 492.46,518.25 C495.20,517.12 497.95,516.03 500.69,514.98 C503.43,513.93 507.54,512.44 508.91,511.93" fill="none" stroke="#8a8a8a" stroke-width="1.15" stroke-dasharray="5.5,3.2"/>
<path d="M311.50,607.31 C312.87,606.90 316.98,605.74 319.73,604.88 C322.47,604.02 325.21,603.12 327.95,602.17 C330.69,601.21 333.43,600.21 336.18,599.15 C338.92,598.09 341.66,596.98 344.40,595.82 C347.14,594.65 349.89,593.43 352.63,592.16 C355.37,590.89 358.11,589.56 360.85,588.19 C363.60,586.81 366.34,585.38 369.08,583.90 C371.82,582.42 374.56,580.89 377.30,579.32 C380.05,577.75 382.79,576.12 385.53,574.47 C388.27,572.82 391.01,571.12 393.76,569.40 C396.50,567.68 399.24,565.92 401.98,564.14 C404.72,562.37 407.46,560.57 410.21,558.77 C412.95,556.96 415.69,555.14 418.43,553.33 C421.17,551.51 423.92,549.69 426.66,547.88 C429.40,546.08 432.14,544.28 434.88,542.51 C437.63,540.74 440.37,538.98 443.11,537.26 C445.85,535.53 448.59,533.84 451.33,532.18 C454.08,530.53 456.82,528.91 459.56,527.34 C462.30,525.77 465.04,524.24 467.79,522.76 C470.53,521.28 473.27,519.85 476.01,518.48 C478.75,517.10 481.49,515.77 484.24,514.50 C486.98,513.23 489.72,512.01 492.46,510.85 C495.20,509.69 497.95,508.58 500.69,507.52 C503.43,506.46 507.54,505.01 508.91,504.51" fill="none" stroke="#111" stroke-width="1.25"/>
<circle cx="311.70" cy="607.25" r="1.7" fill="#fff" stroke="#1a1a1a" stroke-width="1.0"/>
<circle cx="329.60" cy="601.59" r="1.7" fill="#fff" stroke="#1a1a1a" stroke-width="1.0"/>
<circle cx="337.70" cy="598.56" r="1.7" fill="#fff" stroke="#1a1a1a" stroke-width="1.0"/>
<circle cx="342.90" cy="596.45" r="1.7" fill="#fff" stroke="#1a1a1a" stroke-width="1.0"/>
<circle cx="352.10" cy="592.41" r="1.7" fill="#fff" stroke="#1a1a1a" stroke-width="1.0"/>
<circle cx="357.90" cy="589.65" r="1.7" fill="none" stroke="#1a1a1a" stroke-width="1.0"/>
<circle cx="359.80" cy="588.71" r="1.7" fill="none" stroke="#1a1a1a" stroke-width="1.0"/>
<circle cx="366.50" cy="585.28" r="1.7" fill="#fff" stroke="#1a1a1a" stroke-width="1.0"/>
<circle cx="371.30" cy="582.69" r="1.7" fill="#fff" stroke="#1a1a1a" stroke-width="1.0"/>
<circle cx="376.20" cy="579.95" r="1.7" fill="none" stroke="#1a1a1a" stroke-width="1.0"/>
<circle cx="379.00" cy="578.34" r="1.7" fill="none" stroke="#1a1a1a" stroke-width="1.0"/>
<circle cx="380.97" cy="577.19" r="1.7" fill="none" stroke="#1a1a1a" stroke-width="1.0"/>
<circle cx="382.12" cy="576.51" r="1.7" fill="none" stroke="#1a1a1a" stroke-width="1.0"/>
<circle cx="383.29" cy="575.81" r="1.7" fill="none" stroke="#1a1a1a" stroke-width="1.0"/>
<circle cx="383.84" cy="575.48" r="1.7" fill="none" stroke="#1a1a1a" stroke-width="1.0"/>
<circle cx="384.42" cy="575.14" r="1.7" fill="none" stroke="#1a1a1a" stroke-width="1.0"/>
<circle cx="385.38" cy="574.56" r="1.7" fill="none" stroke="#1a1a1a" stroke-width="1.0"/>
<circle cx="386.21" cy="574.06" r="1.7" fill="none" stroke="#1a1a1a" stroke-width="1.0"/>
<circle cx="387.92" cy="573.02" r="1.7" fill="none" stroke="#1a1a1a" stroke-width="1.0"/>
<circle cx="388.60" cy="572.60" r="1.7" fill="none" stroke="#1a1a1a" stroke-width="1.0"/>
<circle cx="389.05" cy="572.32" r="1.7" fill="none" stroke="#1a1a1a" stroke-width="1.0"/>
<circle cx="390.96" cy="571.15" r="1.7" fill="none" stroke="#1a1a1a" stroke-width="1.0"/>
<circle cx="392.20" cy="570.37" r="1.7" fill="none" stroke="#1a1a1a" stroke-width="1.0"/>
<circle cx="392.85" cy="569.97" r="1.7" fill="none" stroke="#1a1a1a" stroke-width="1.0"/>
<circle cx="394.12" cy="569.17" r="1.7" fill="none" stroke="#1a1a1a" stroke-width="1.0"/>
<circle cx="394.58" cy="568.88" r="1.7" fill="none" stroke="#1a1a1a" stroke-width="1.0"/>
<circle cx="395.82" cy="568.09" r="1.7" fill="none" stroke="#1a1a1a" stroke-width="1.0"/>
<circle cx="397.77" cy="566.85" r="1.7" fill="none" stroke="#1a1a1a" stroke-width="1.0"/>
<circle cx="399.54" cy="565.72" r="1.7" fill="none" stroke="#1a1a1a" stroke-width="1.0"/>
<circle cx="401.04" cy="564.75" r="1.7" fill="none" stroke="#1a1a1a" stroke-width="1.0"/>
<circle cx="401.87" cy="564.22" r="1.7" fill="none" stroke="#1a1a1a" stroke-width="1.0"/>
<circle cx="402.86" cy="563.57" r="1.7" fill="none" stroke="#1a1a1a" stroke-width="1.0"/>
<circle cx="403.54" cy="563.13" r="1.7" fill="none" stroke="#1a1a1a" stroke-width="1.0"/>
<circle cx="405.17" cy="562.07" r="1.7" fill="none" stroke="#1a1a1a" stroke-width="1.0"/>
<circle cx="406.42" cy="561.26" r="1.7" fill="none" stroke="#1a1a1a" stroke-width="1.0"/>
<circle cx="408.05" cy="560.18" r="1.7" fill="none" stroke="#1a1a1a" stroke-width="1.0"/>
<circle cx="408.99" cy="559.57" r="1.7" fill="none" stroke="#1a1a1a" stroke-width="1.0"/>
<circle cx="409.75" cy="559.06" r="1.7" fill="none" stroke="#1a1a1a" stroke-width="1.0"/>
<circle cx="411.44" cy="557.95" r="1.7" fill="none" stroke="#1a1a1a" stroke-width="1.0"/>
<circle cx="413.40" cy="556.66" r="1.7" fill="none" stroke="#1a1a1a" stroke-width="1.0"/>
<circle cx="415.15" cy="555.50" r="1.7" fill="none" stroke="#1a1a1a" stroke-width="1.0"/>
<circle cx="416.82" cy="554.39" r="1.7" fill="none" stroke="#1a1a1a" stroke-width="1.0"/>
<circle cx="418.52" cy="553.27" r="1.7" fill="none" stroke="#1a1a1a" stroke-width="1.0"/>
<circle cx="420.10" cy="552.22" r="1.7" fill="none" stroke="#1a1a1a" stroke-width="1.0"/>
<circle cx="420.87" cy="551.71" r="1.7" fill="none" stroke="#1a1a1a" stroke-width="1.0"/>
<circle cx="422.10" cy="550.90" r="1.7" fill="none" stroke="#1a1a1a" stroke-width="1.0"/>
<circle cx="423.07" cy="550.25" r="1.7" fill="none" stroke="#1a1a1a" stroke-width="1.0"/>
<circle cx="423.54" cy="549.94" r="1.7" fill="none" stroke="#1a1a1a" stroke-width="1.0"/>
<circle cx="424.00" cy="549.64" r="1.7" fill="none" stroke="#1a1a1a" stroke-width="1.0"/>
<circle cx="424.86" cy="549.07" r="1.7" fill="none" stroke="#1a1a1a" stroke-width="1.0"/>
<circle cx="425.68" cy="548.53" r="1.7" fill="none" stroke="#1a1a1a" stroke-width="1.0"/>
<circle cx="427.18" cy="547.54" r="1.7" fill="none" stroke="#1a1a1a" stroke-width="1.0"/>
<circle cx="429.09" cy="546.28" r="1.7" fill="none" stroke="#1a1a1a" stroke-width="1.0"/>
<circle cx="430.21" cy="545.55" r="1.7" fill="none" stroke="#1a1a1a" stroke-width="1.0"/>
<circle cx="432.09" cy="544.32" r="1.7" fill="none" stroke="#1a1a1a" stroke-width="1.0"/>
<circle cx="434.05" cy="543.04" r="1.7" fill="none" stroke="#1a1a1a" stroke-width="1.0"/>
<circle cx="435.96" cy="541.81" r="1.7" fill="none" stroke="#1a1a1a" stroke-width="1.0"/>
<circle cx="436.95" cy="541.17" r="1.7" fill="none" stroke="#1a1a1a" stroke-width="1.0"/>
<circle cx="437.72" cy="540.68" r="1.7" fill="none" stroke="#1a1a1a" stroke-width="1.0"/>
<circle cx="438.49" cy="540.19" r="1.7" fill="none" stroke="#1a1a1a" stroke-width="1.0"/>
<circle cx="439.22" cy="539.72" r="1.7" fill="none" stroke="#1a1a1a" stroke-width="1.0"/>
<circle cx="439.96" cy="539.25" r="1.7" fill="none" stroke="#1a1a1a" stroke-width="1.0"/>
<circle cx="441.35" cy="538.36" r="1.7" fill="none" stroke="#1a1a1a" stroke-width="1.0"/>
<circle cx="443.17" cy="537.21" r="1.7" fill="none" stroke="#1a1a1a" stroke-width="1.0"/>
<circle cx="444.90" cy="536.13" r="1.7" fill="none" stroke="#1a1a1a" stroke-width="1.0"/>
<circle cx="446.07" cy="535.41" r="1.7" fill="none" stroke="#1a1a1a" stroke-width="1.0"/>
<circle cx="447.51" cy="534.52" r="1.7" fill="none" stroke="#1a1a1a" stroke-width="1.0"/>
<circle cx="449.18" cy="533.49" r="1.7" fill="none" stroke="#1a1a1a" stroke-width="1.0"/>
<circle cx="449.73" cy="533.15" r="1.7" fill="none" stroke="#1a1a1a" stroke-width="1.0"/>
<circle cx="451.18" cy="532.28" r="1.7" fill="none" stroke="#1a1a1a" stroke-width="1.0"/>
<circle cx="453.02" cy="531.17" r="1.7" fill="none" stroke="#1a1a1a" stroke-width="1.0"/>
<circle cx="454.66" cy="530.19" r="1.7" fill="none" stroke="#1a1a1a" stroke-width="1.0"/>
<circle cx="456.25" cy="529.26" r="1.7" fill="none" stroke="#1a1a1a" stroke-width="1.0"/>
<circle cx="457.42" cy="528.58" r="1.7" fill="none" stroke="#1a1a1a" stroke-width="1.0"/>
<circle cx="458.12" cy="528.17" r="1.7" fill="none" stroke="#1a1a1a" stroke-width="1.0"/>
<circle cx="459.77" cy="527.22" r="1.7" fill="none" stroke="#1a1a1a" stroke-width="1.0"/>
<circle cx="460.71" cy="526.69" r="1.7" fill="none" stroke="#1a1a1a" stroke-width="1.0"/>
<circle cx="462.37" cy="525.74" r="1.7" fill="none" stroke="#1a1a1a" stroke-width="1.0"/>
<circle cx="464.31" cy="524.66" r="1.7" fill="none" stroke="#1a1a1a" stroke-width="1.0"/>
<circle cx="465.35" cy="524.09" r="1.7" fill="none" stroke="#1a1a1a" stroke-width="1.0"/>
<circle cx="466.39" cy="523.51" r="1.7" fill="none" stroke="#1a1a1a" stroke-width="1.0"/>
<circle cx="468.29" cy="522.49" r="1.7" fill="none" stroke="#1a1a1a" stroke-width="1.0"/>
<circle cx="469.84" cy="521.66" r="1.7" fill="none" stroke="#1a1a1a" stroke-width="1.0"/>
<circle cx="470.53" cy="521.30" r="1.7" fill="none" stroke="#1a1a1a" stroke-width="1.0"/>
<circle cx="471.15" cy="520.97" r="1.7" fill="none" stroke="#1a1a1a" stroke-width="1.0"/>
<circle cx="471.80" cy="520.63" r="1.7" fill="none" stroke="#1a1a1a" stroke-width="1.0"/>
<circle cx="473.63" cy="519.68" r="1.7" fill="none" stroke="#1a1a1a" stroke-width="1.0"/>
<circle cx="475.31" cy="518.83" r="1.7" fill="none" stroke="#1a1a1a" stroke-width="1.0"/>
<circle cx="475.96" cy="518.50" r="1.7" fill="none" stroke="#1a1a1a" stroke-width="1.0"/>
<circle cx="477.67" cy="517.65" r="1.7" fill="none" stroke="#1a1a1a" stroke-width="1.0"/>
<circle cx="479.62" cy="516.69" r="1.7" fill="none" stroke="#1a1a1a" stroke-width="1.0"/>
<circle cx="481.06" cy="516.00" r="1.7" fill="none" stroke="#1a1a1a" stroke-width="1.0"/>
<circle cx="482.03" cy="515.54" r="1.7" fill="none" stroke="#1a1a1a" stroke-width="1.0"/>
<circle cx="483.31" cy="514.94" r="1.7" fill="none" stroke="#1a1a1a" stroke-width="1.0"/>
<circle cx="483.93" cy="514.65" r="1.7" fill="none" stroke="#1a1a1a" stroke-width="1.0"/>
<circle cx="484.37" cy="514.44" r="1.7" fill="none" stroke="#1a1a1a" stroke-width="1.0"/>
<circle cx="486.31" cy="513.55" r="1.7" fill="none" stroke="#1a1a1a" stroke-width="1.0"/>
<circle cx="487.74" cy="512.91" r="1.7" fill="none" stroke="#1a1a1a" stroke-width="1.0"/>
<circle cx="488.98" cy="512.36" r="1.7" fill="none" stroke="#1a1a1a" stroke-width="1.0"/>
<circle cx="490.86" cy="511.54" r="1.7" fill="none" stroke="#1a1a1a" stroke-width="1.0"/>
<circle cx="491.95" cy="511.07" r="1.7" fill="none" stroke="#1a1a1a" stroke-width="1.0"/>
<circle cx="493.73" cy="510.32" r="1.7" fill="none" stroke="#1a1a1a" stroke-width="1.0"/>
<circle cx="495.44" cy="509.61" r="1.7" fill="none" stroke="#1a1a1a" stroke-width="1.0"/>
<circle cx="496.19" cy="509.30" r="1.7" fill="none" stroke="#1a1a1a" stroke-width="1.0"/>
<circle cx="497.01" cy="508.97" r="1.7" fill="none" stroke="#1a1a1a" stroke-width="1.0"/>
<circle cx="497.88" cy="508.62" r="1.7" fill="none" stroke="#1a1a1a" stroke-width="1.0"/>
<circle cx="498.68" cy="508.31" r="1.7" fill="none" stroke="#1a1a1a" stroke-width="1.0"/>
<circle cx="503.00" cy="506.65" r="1.7" fill="#fff" stroke="#1a1a1a" stroke-width="1.0"/>
<circle cx="508.80" cy="504.55" r="1.7" fill="#fff" stroke="#1a1a1a" stroke-width="1.0"/>
<text x="139.00" y="698.20" font-size="17.00" text-anchor="start" font-weight="normal" fill="#000" stroke="#000" stroke-width="0.35">G</text>
<text x="289.60" y="695.70" font-size="9.50" text-anchor="middle" font-weight="normal" fill="#111" textLength="136.40" lengthAdjust="spacingAndGlyphs" stroke="#111" stroke-width="0.45">Class I and II, MFI threshold=8000</text>
<g transform="translate(160.60,787.40) rotate(-90)"><text x="0.00" y="0.00" font-size="8.60" text-anchor="middle" font-weight="normal" fill="#111" textLength="150.20" lengthAdjust="spacingAndGlyphs" stroke="#111" stroke-width="0.42">Probability of positive antibody response</text></g>
<line x1="183.50" y1="854.30" x2="395.00" y2="854.30" stroke="#8e8e8e" stroke-width="1.5"/>
<path d="M183.50,855.00 L183.50,703.70 L395.00,703.70 L395.00,855.00" fill="none" stroke="#686868" stroke-width="1.4" stroke-linejoin="miter"/>
<line x1="180.50" y1="850.00" x2="183.50" y2="850.00" stroke="#666" stroke-width="1"/>
<text x="178.20" y="852.20" font-size="6.30" text-anchor="end" font-weight="normal" fill="#444" textLength="7.90" lengthAdjust="spacingAndGlyphs" stroke="#444" stroke-width="0.22">0.0</text>
<line x1="180.50" y1="835.77" x2="183.50" y2="835.77" stroke="#666" stroke-width="1"/>
<text x="178.20" y="837.97" font-size="6.30" text-anchor="end" font-weight="normal" fill="#444" textLength="7.90" lengthAdjust="spacingAndGlyphs" stroke="#444" stroke-width="0.22">0.1</text>
<line x1="180.50" y1="821.54" x2="183.50" y2="821.54" stroke="#666" stroke-width="1"/>
<text x="178.20" y="823.74" font-size="6.30" text-anchor="end" font-weight="normal" fill="#444" textLength="7.90" lengthAdjust="spacingAndGlyphs" stroke="#444" stroke-width="0.22">0.2</text>
<line x1="180.50" y1="807.31" x2="183.50" y2="807.31" stroke="#666" stroke-width="1"/>
<text x="178.20" y="809.51" font-size="6.30" text-anchor="end" font-weight="normal" fill="#444" textLength="7.90" lengthAdjust="spacingAndGlyphs" stroke="#444" stroke-width="0.22">0.3</text>
<line x1="180.50" y1="793.08" x2="183.50" y2="793.08" stroke="#666" stroke-width="1"/>
<text x="178.20" y="795.28" font-size="6.30" text-anchor="end" font-weight="normal" fill="#444" textLength="7.90" lengthAdjust="spacingAndGlyphs" stroke="#444" stroke-width="0.22">0.4</text>
<line x1="180.50" y1="778.85" x2="183.50" y2="778.85" stroke="#666" stroke-width="1"/>
<text x="178.20" y="781.05" font-size="6.30" text-anchor="end" font-weight="normal" fill="#444" textLength="7.90" lengthAdjust="spacingAndGlyphs" stroke="#444" stroke-width="0.22">0.5</text>
<line x1="180.50" y1="764.62" x2="183.50" y2="764.62" stroke="#666" stroke-width="1"/>
<text x="178.20" y="766.82" font-size="6.30" text-anchor="end" font-weight="normal" fill="#444" textLength="7.90" lengthAdjust="spacingAndGlyphs" stroke="#444" stroke-width="0.22">0.6</text>
<line x1="180.50" y1="750.39" x2="183.50" y2="750.39" stroke="#666" stroke-width="1"/>
<text x="178.20" y="752.59" font-size="6.30" text-anchor="end" font-weight="normal" fill="#444" textLength="7.90" lengthAdjust="spacingAndGlyphs" stroke="#444" stroke-width="0.22">0.7</text>
<line x1="180.50" y1="736.16" x2="183.50" y2="736.16" stroke="#666" stroke-width="1"/>
<text x="178.20" y="738.36" font-size="6.30" text-anchor="end" font-weight="normal" fill="#444" textLength="7.90" lengthAdjust="spacingAndGlyphs" stroke="#444" stroke-width="0.22">0.8</text>
<line x1="180.50" y1="721.93" x2="183.50" y2="721.93" stroke="#666" stroke-width="1"/>
<text x="178.20" y="724.13" font-size="6.30" text-anchor="end" font-weight="normal" fill="#444" textLength="7.90" lengthAdjust="spacingAndGlyphs" stroke="#444" stroke-width="0.22">0.9</text>
<line x1="180.50" y1="707.70" x2="183.50" y2="707.70" stroke="#666" stroke-width="1"/>
<text x="178.20" y="709.90" font-size="6.30" text-anchor="end" font-weight="normal" fill="#444" textLength="7.90" lengthAdjust="spacingAndGlyphs" stroke="#444" stroke-width="0.22">1.0</text>
<line x1="187.40" y1="855.00" x2="187.40" y2="857.50" stroke="#666" stroke-width="1"/>
<text x="186.60" y="865.40" font-size="6.30" text-anchor="middle" font-weight="normal" fill="#444" textLength="7.90" lengthAdjust="spacingAndGlyphs" stroke="#444" stroke-width="0.22">0.0</text>
<line x1="227.90" y1="855.00" x2="227.90" y2="857.50" stroke="#666" stroke-width="1"/>
<text x="227.10" y="865.40" font-size="6.30" text-anchor="middle" font-weight="normal" fill="#444" textLength="7.90" lengthAdjust="spacingAndGlyphs" stroke="#444" stroke-width="0.22">0.1</text>
<line x1="268.50" y1="855.00" x2="268.50" y2="857.50" stroke="#666" stroke-width="1"/>
<text x="267.70" y="865.40" font-size="6.30" text-anchor="middle" font-weight="normal" fill="#444" textLength="7.90" lengthAdjust="spacingAndGlyphs" stroke="#444" stroke-width="0.22">0.2</text>
<line x1="309.10" y1="855.00" x2="309.10" y2="857.50" stroke="#666" stroke-width="1"/>
<text x="308.30" y="865.40" font-size="6.30" text-anchor="middle" font-weight="normal" fill="#444" textLength="7.90" lengthAdjust="spacingAndGlyphs" stroke="#444" stroke-width="0.22">0.3</text>
<line x1="349.70" y1="855.00" x2="349.70" y2="857.50" stroke="#666" stroke-width="1"/>
<text x="348.90" y="865.40" font-size="6.30" text-anchor="middle" font-weight="normal" fill="#444" textLength="7.90" lengthAdjust="spacingAndGlyphs" stroke="#444" stroke-width="0.22">0.4</text>
<line x1="390.20" y1="855.00" x2="390.20" y2="857.50" stroke="#666" stroke-width="1"/>
<text x="389.40" y="865.40" font-size="6.30" text-anchor="middle" font-weight="normal" fill="#444" textLength="7.90" lengthAdjust="spacingAndGlyphs" stroke="#444" stroke-width="0.22">0.5</text>
<text x="289.55" y="875.70" font-size="6.40" text-anchor="middle" font-weight="bold" fill="#111" textLength="21.20" lengthAdjust="spacingAndGlyphs">EMS3D</text>
<rect x="192.50" y="880.70" width="193.80" height="9.00" fill="#fff" stroke="#555" stroke-width="1.1"/>
<line x1="194.80" y1="885.20" x2="218.80" y2="885.20" stroke="#222" stroke-width="1.2"/>
<text x="221.70" y="887.20" font-size="5.60" text-anchor="start" font-weight="bold" fill="#3a3a3a" textLength="21.80" lengthAdjust="spacingAndGlyphs">Estimate</text>
<line x1="250.50" y1="885.20" x2="272.70" y2="885.20" stroke="#888" stroke-width="1" stroke-dasharray="5,3.5"/>
<text x="277.00" y="887.20" font-size="5.60" text-anchor="start" font-weight="bold" fill="#3a3a3a" textLength="36.60" lengthAdjust="spacingAndGlyphs">Upper 95% CL</text>
<line x1="318.80" y1="885.20" x2="341.30" y2="885.20" stroke="#888" stroke-width="1" stroke-dasharray="5,3.5"/>
<text x="345.70" y="887.20" font-size="5.60" text-anchor="start" font-weight="bold" fill="#3a3a3a" textLength="37.50" lengthAdjust="spacingAndGlyphs">Lower 95% CL</text>
<path d="M187.40,842.47 C188.77,842.32 192.90,841.88 195.65,841.56 C198.40,841.23 201.15,840.90 203.89,840.54 C206.64,840.18 209.39,839.81 212.14,839.41 C214.89,839.01 217.64,838.59 220.39,838.15 C223.14,837.71 225.89,837.25 228.64,836.75 C231.39,836.26 234.13,835.75 236.88,835.21 C239.63,834.66 242.38,834.09 245.13,833.49 C247.88,832.89 250.63,832.26 253.38,831.59 C256.13,830.93 258.88,830.23 261.62,829.50 C264.37,828.76 267.12,827.99 269.87,827.17 C272.62,826.36 275.37,825.51 278.12,824.60 C280.87,823.69 283.62,822.75 286.37,821.74 C289.12,820.73 291.86,819.67 294.61,818.53 C297.36,817.40 300.11,816.21 302.86,814.92 C305.61,813.64 308.36,812.29 311.11,810.83 C313.86,809.38 316.61,807.84 319.36,806.20 C322.10,804.56 324.85,802.83 327.60,801.02 C330.35,799.21 333.10,797.30 335.85,795.34 C338.60,793.37 341.35,791.33 344.10,789.25 C346.85,787.17 349.59,785.02 352.34,782.87 C355.09,780.72 357.84,778.53 360.59,776.35 C363.34,774.17 366.09,771.96 368.84,769.80 C371.59,767.64 374.34,765.47 377.09,763.36 C379.83,761.26 383.96,758.19 385.33,757.15" fill="none" stroke="#8a8a8a" stroke-width="1.15" stroke-dasharray="5.5,3.2"/>
<path d="M187.40,847.48 C188.77,847.39 192.90,847.15 195.65,846.96 C198.40,846.77 201.15,846.57 203.89,846.34 C206.64,846.12 209.39,845.88 212.14,845.61 C214.89,845.34 217.64,845.05 220.39,844.72 C223.14,844.40 225.89,844.06 228.64,843.67 C231.39,843.29 234.13,842.88 236.88,842.43 C239.63,841.98 242.38,841.50 245.13,840.97 C247.88,840.44 250.63,839.87 253.38,839.25 C256.13,838.63 258.88,837.97 261.62,837.25 C264.37,836.53 267.12,835.76 269.87,834.94 C272.62,834.11 275.37,833.23 278.12,832.30 C280.87,831.36 283.62,830.37 286.37,829.32 C289.12,828.28 291.86,827.17 294.61,826.03 C297.36,824.88 300.11,823.68 302.86,822.46 C305.61,821.24 308.36,819.97 311.11,818.69 C313.86,817.41 316.61,816.10 319.36,814.78 C322.10,813.46 324.85,812.13 327.60,810.79 C330.35,809.45 333.10,808.10 335.85,806.74 C338.60,805.37 341.35,804.00 344.10,802.62 C346.85,801.23 349.59,799.83 352.34,798.42 C355.09,797.02 357.84,795.59 360.59,794.16 C363.34,792.73 366.09,791.29 368.84,789.85 C371.59,788.40 374.34,786.94 377.09,785.49 C379.83,784.03 383.96,781.84 385.33,781.11" fill="none" stroke="#8a8a8a" stroke-width="1.15" stroke-dasharray="5.5,3.2"/>
<path d="M187.40,845.62 C188.77,845.50 192.90,845.17 195.65,844.91 C198.40,844.66 201.15,844.38 203.89,844.09 C206.64,843.80 209.39,843.48 212.14,843.14 C214.89,842.80 217.64,842.44 220.39,842.05 C223.14,841.66 225.89,841.25 228.64,840.80 C231.39,840.36 234.13,839.88 236.88,839.37 C239.63,838.86 242.38,838.32 245.13,837.74 C247.88,837.15 250.63,836.54 253.38,835.88 C256.13,835.22 258.88,834.52 261.62,833.77 C264.37,833.02 267.12,832.24 269.87,831.40 C272.62,830.56 275.37,829.67 278.12,828.73 C280.87,827.80 283.62,826.81 286.37,825.76 C289.12,824.72 291.86,823.63 294.61,822.47 C297.36,821.32 300.11,820.12 302.86,818.86 C305.61,817.59 308.36,816.28 311.11,814.91 C313.86,813.54 316.61,812.11 319.36,810.63 C322.10,809.16 324.85,807.63 327.60,806.06 C330.35,804.48 333.10,802.86 335.85,801.20 C338.60,799.54 341.35,797.83 344.10,796.09 C346.85,794.36 349.59,792.59 352.34,790.80 C355.09,789.01 357.84,787.18 360.59,785.36 C363.34,783.53 366.09,781.68 368.84,779.84 C371.59,778.00 374.34,776.15 377.09,774.32 C379.83,772.48 383.96,769.75 385.33,768.84" fill="none" stroke="#111" stroke-width="1.25"/>
<circle cx="187.50" cy="845.61" r="1.7" fill="#fff" stroke="#1a1a1a" stroke-width="1.0"/>
<circle cx="205.80" cy="843.88" r="1.7" fill="#fff" stroke="#1a1a1a" stroke-width="1.0"/>
<circle cx="213.60" cy="842.96" r="1.7" fill="#fff" stroke="#1a1a1a" stroke-width="1.0"/>
<circle cx="218.70" cy="842.29" r="1.7" fill="#fff" stroke="#1a1a1a" stroke-width="1.0"/>
<circle cx="227.80" cy="840.94" r="1.7" fill="none" stroke="#1a1a1a" stroke-width="1.0"/>
<circle cx="230.00" cy="840.58" r="1.7" fill="none" stroke="#1a1a1a" stroke-width="1.0"/>
<circle cx="235.00" cy="839.72" r="1.7" fill="#fff" stroke="#1a1a1a" stroke-width="1.0"/>
<circle cx="238.00" cy="839.16" r="1.7" fill="#fff" stroke="#1a1a1a" stroke-width="1.0"/>
<circle cx="241.00" cy="838.58" r="1.7" fill="none" stroke="#1a1a1a" stroke-width="1.0"/>
<circle cx="242.37" cy="838.31" r="1.7" fill="none" stroke="#1a1a1a" stroke-width="1.0"/>
<circle cx="244.16" cy="837.94" r="1.7" fill="none" stroke="#1a1a1a" stroke-width="1.0"/>
<circle cx="245.20" cy="837.72" r="1.7" fill="none" stroke="#1a1a1a" stroke-width="1.0"/>
<circle cx="248.27" cy="837.06" r="1.7" fill="none" stroke="#1a1a1a" stroke-width="1.0"/>
<circle cx="249.89" cy="836.69" r="1.7" fill="none" stroke="#1a1a1a" stroke-width="1.0"/>
<circle cx="251.78" cy="836.26" r="1.7" fill="none" stroke="#1a1a1a" stroke-width="1.0"/>
<circle cx="254.00" cy="835.73" r="1.7" fill="none" stroke="#1a1a1a" stroke-width="1.0"/>
<circle cx="257.05" cy="834.97" r="1.7" fill="none" stroke="#1a1a1a" stroke-width="1.0"/>
<circle cx="258.84" cy="834.51" r="1.7" fill="none" stroke="#1a1a1a" stroke-width="1.0"/>
<circle cx="261.93" cy="833.69" r="1.7" fill="none" stroke="#1a1a1a" stroke-width="1.0"/>
<circle cx="263.93" cy="833.13" r="1.7" fill="none" stroke="#1a1a1a" stroke-width="1.0"/>
<circle cx="266.02" cy="832.54" r="1.7" fill="none" stroke="#1a1a1a" stroke-width="1.0"/>
<circle cx="268.08" cy="831.94" r="1.7" fill="none" stroke="#1a1a1a" stroke-width="1.0"/>
<circle cx="268.83" cy="831.71" r="1.7" fill="none" stroke="#1a1a1a" stroke-width="1.0"/>
<circle cx="270.67" cy="831.15" r="1.7" fill="none" stroke="#1a1a1a" stroke-width="1.0"/>
<circle cx="271.85" cy="830.79" r="1.7" fill="none" stroke="#1a1a1a" stroke-width="1.0"/>
<circle cx="272.56" cy="830.56" r="1.7" fill="none" stroke="#1a1a1a" stroke-width="1.0"/>
<circle cx="275.33" cy="829.67" r="1.7" fill="none" stroke="#1a1a1a" stroke-width="1.0"/>
<circle cx="276.48" cy="829.29" r="1.7" fill="none" stroke="#1a1a1a" stroke-width="1.0"/>
<circle cx="278.41" cy="828.63" r="1.7" fill="none" stroke="#1a1a1a" stroke-width="1.0"/>
<circle cx="281.00" cy="827.73" r="1.7" fill="none" stroke="#1a1a1a" stroke-width="1.0"/>
<circle cx="283.15" cy="826.96" r="1.7" fill="none" stroke="#1a1a1a" stroke-width="1.0"/>
<circle cx="284.69" cy="826.39" r="1.7" fill="none" stroke="#1a1a1a" stroke-width="1.0"/>
<circle cx="286.74" cy="825.62" r="1.7" fill="none" stroke="#1a1a1a" stroke-width="1.0"/>
<circle cx="288.89" cy="824.79" r="1.7" fill="none" stroke="#1a1a1a" stroke-width="1.0"/>
<circle cx="290.00" cy="824.35" r="1.7" fill="none" stroke="#1a1a1a" stroke-width="1.0"/>
<circle cx="290.54" cy="824.14" r="1.7" fill="none" stroke="#1a1a1a" stroke-width="1.0"/>
<circle cx="291.72" cy="823.66" r="1.7" fill="none" stroke="#1a1a1a" stroke-width="1.0"/>
<circle cx="292.46" cy="823.36" r="1.7" fill="none" stroke="#1a1a1a" stroke-width="1.0"/>
<circle cx="293.24" cy="823.04" r="1.7" fill="none" stroke="#1a1a1a" stroke-width="1.0"/>
<circle cx="294.73" cy="822.42" r="1.7" fill="none" stroke="#1a1a1a" stroke-width="1.0"/>
<circle cx="295.84" cy="821.96" r="1.7" fill="none" stroke="#1a1a1a" stroke-width="1.0"/>
<circle cx="297.03" cy="821.45" r="1.7" fill="none" stroke="#1a1a1a" stroke-width="1.0"/>
<circle cx="298.50" cy="820.81" r="1.7" fill="none" stroke="#1a1a1a" stroke-width="1.0"/>
<circle cx="300.19" cy="820.06" r="1.7" fill="none" stroke="#1a1a1a" stroke-width="1.0"/>
<circle cx="301.21" cy="819.60" r="1.7" fill="none" stroke="#1a1a1a" stroke-width="1.0"/>
<circle cx="302.47" cy="819.03" r="1.7" fill="none" stroke="#1a1a1a" stroke-width="1.0"/>
<circle cx="303.58" cy="818.52" r="1.7" fill="none" stroke="#1a1a1a" stroke-width="1.0"/>
<circle cx="304.70" cy="818.00" r="1.7" fill="none" stroke="#1a1a1a" stroke-width="1.0"/>
<circle cx="306.08" cy="817.36" r="1.7" fill="none" stroke="#1a1a1a" stroke-width="1.0"/>
<circle cx="307.11" cy="816.86" r="1.7" fill="none" stroke="#1a1a1a" stroke-width="1.0"/>
<circle cx="308.25" cy="816.31" r="1.7" fill="none" stroke="#1a1a1a" stroke-width="1.0"/>
<circle cx="309.32" cy="815.79" r="1.7" fill="none" stroke="#1a1a1a" stroke-width="1.0"/>
<circle cx="311.05" cy="814.93" r="1.7" fill="none" stroke="#1a1a1a" stroke-width="1.0"/>
<circle cx="312.44" cy="814.24" r="1.7" fill="none" stroke="#1a1a1a" stroke-width="1.0"/>
<circle cx="314.08" cy="813.40" r="1.7" fill="none" stroke="#1a1a1a" stroke-width="1.0"/>
<circle cx="315.81" cy="812.51" r="1.7" fill="none" stroke="#1a1a1a" stroke-width="1.0"/>
<circle cx="316.57" cy="812.11" r="1.7" fill="none" stroke="#1a1a1a" stroke-width="1.0"/>
<circle cx="317.75" cy="811.49" r="1.7" fill="none" stroke="#1a1a1a" stroke-width="1.0"/>
<circle cx="319.49" cy="810.56" r="1.7" fill="none" stroke="#1a1a1a" stroke-width="1.0"/>
<circle cx="321.07" cy="809.71" r="1.7" fill="none" stroke="#1a1a1a" stroke-width="1.0"/>
<circle cx="321.65" cy="809.39" r="1.7" fill="none" stroke="#1a1a1a" stroke-width="1.0"/>
<circle cx="322.21" cy="809.08" r="1.7" fill="none" stroke="#1a1a1a" stroke-width="1.0"/>
<circle cx="323.23" cy="808.52" r="1.7" fill="none" stroke="#1a1a1a" stroke-width="1.0"/>
<circle cx="323.72" cy="808.25" r="1.7" fill="none" stroke="#1a1a1a" stroke-width="1.0"/>
<circle cx="324.45" cy="807.84" r="1.7" fill="none" stroke="#1a1a1a" stroke-width="1.0"/>
<circle cx="324.94" cy="807.57" r="1.7" fill="none" stroke="#1a1a1a" stroke-width="1.0"/>
<circle cx="326.28" cy="806.81" r="1.7" fill="none" stroke="#1a1a1a" stroke-width="1.0"/>
<circle cx="327.78" cy="805.95" r="1.7" fill="none" stroke="#1a1a1a" stroke-width="1.0"/>
<circle cx="329.45" cy="804.99" r="1.7" fill="none" stroke="#1a1a1a" stroke-width="1.0"/>
<circle cx="330.06" cy="804.64" r="1.7" fill="none" stroke="#1a1a1a" stroke-width="1.0"/>
<circle cx="331.47" cy="803.81" r="1.7" fill="none" stroke="#1a1a1a" stroke-width="1.0"/>
<circle cx="332.80" cy="803.02" r="1.7" fill="none" stroke="#1a1a1a" stroke-width="1.0"/>
<circle cx="333.39" cy="802.67" r="1.7" fill="none" stroke="#1a1a1a" stroke-width="1.0"/>
<circle cx="335.03" cy="801.69" r="1.7" fill="none" stroke="#1a1a1a" stroke-width="1.0"/>
<circle cx="336.80" cy="800.62" r="1.7" fill="none" stroke="#1a1a1a" stroke-width="1.0"/>
<circle cx="337.50" cy="800.19" r="1.7" fill="none" stroke="#1a1a1a" stroke-width="1.0"/>
<circle cx="339.25" cy="799.12" r="1.7" fill="none" stroke="#1a1a1a" stroke-width="1.0"/>
<circle cx="340.20" cy="798.53" r="1.7" fill="none" stroke="#1a1a1a" stroke-width="1.0"/>
<circle cx="341.28" cy="797.86" r="1.7" fill="none" stroke="#1a1a1a" stroke-width="1.0"/>
<circle cx="343.08" cy="796.73" r="1.7" fill="none" stroke="#1a1a1a" stroke-width="1.0"/>
<circle cx="344.66" cy="795.74" r="1.7" fill="none" stroke="#1a1a1a" stroke-width="1.0"/>
<circle cx="345.28" cy="795.35" r="1.7" fill="none" stroke="#1a1a1a" stroke-width="1.0"/>
<circle cx="346.28" cy="794.71" r="1.7" fill="none" stroke="#1a1a1a" stroke-width="1.0"/>
<circle cx="347.40" cy="793.99" r="1.7" fill="none" stroke="#1a1a1a" stroke-width="1.0"/>
<circle cx="348.27" cy="793.43" r="1.7" fill="none" stroke="#1a1a1a" stroke-width="1.0"/>
<circle cx="348.94" cy="793.01" r="1.7" fill="none" stroke="#1a1a1a" stroke-width="1.0"/>
<circle cx="349.78" cy="792.46" r="1.7" fill="none" stroke="#1a1a1a" stroke-width="1.0"/>
<circle cx="351.19" cy="791.54" r="1.7" fill="none" stroke="#1a1a1a" stroke-width="1.0"/>
<circle cx="351.61" cy="791.28" r="1.7" fill="none" stroke="#1a1a1a" stroke-width="1.0"/>
<circle cx="352.78" cy="790.51" r="1.7" fill="none" stroke="#1a1a1a" stroke-width="1.0"/>
<circle cx="353.80" cy="789.85" r="1.7" fill="none" stroke="#1a1a1a" stroke-width="1.0"/>
<circle cx="354.21" cy="789.58" r="1.7" fill="none" stroke="#1a1a1a" stroke-width="1.0"/>
<circle cx="355.07" cy="789.01" r="1.7" fill="none" stroke="#1a1a1a" stroke-width="1.0"/>
<circle cx="356.35" cy="788.17" r="1.7" fill="none" stroke="#1a1a1a" stroke-width="1.0"/>
<circle cx="357.46" cy="787.43" r="1.7" fill="none" stroke="#1a1a1a" stroke-width="1.0"/>
<circle cx="357.94" cy="787.12" r="1.7" fill="none" stroke="#1a1a1a" stroke-width="1.0"/>
<circle cx="359.73" cy="785.93" r="1.7" fill="none" stroke="#1a1a1a" stroke-width="1.0"/>
<circle cx="361.25" cy="784.92" r="1.7" fill="none" stroke="#1a1a1a" stroke-width="1.0"/>
<circle cx="363.02" cy="783.74" r="1.7" fill="none" stroke="#1a1a1a" stroke-width="1.0"/>
<circle cx="363.56" cy="783.38" r="1.7" fill="none" stroke="#1a1a1a" stroke-width="1.0"/>
<circle cx="364.32" cy="782.87" r="1.7" fill="none" stroke="#1a1a1a" stroke-width="1.0"/>
<circle cx="364.76" cy="782.57" r="1.7" fill="none" stroke="#1a1a1a" stroke-width="1.0"/>
<circle cx="366.26" cy="781.57" r="1.7" fill="none" stroke="#1a1a1a" stroke-width="1.0"/>
<circle cx="367.03" cy="781.05" r="1.7" fill="none" stroke="#1a1a1a" stroke-width="1.0"/>
<circle cx="367.60" cy="780.67" r="1.7" fill="none" stroke="#1a1a1a" stroke-width="1.0"/>
<circle cx="368.59" cy="780.01" r="1.7" fill="none" stroke="#1a1a1a" stroke-width="1.0"/>
<circle cx="370.28" cy="778.88" r="1.7" fill="none" stroke="#1a1a1a" stroke-width="1.0"/>
<circle cx="371.84" cy="777.83" r="1.7" fill="none" stroke="#1a1a1a" stroke-width="1.0"/>
<circle cx="372.59" cy="777.33" r="1.7" fill="none" stroke="#1a1a1a" stroke-width="1.0"/>
<circle cx="373.19" cy="776.92" r="1.7" fill="none" stroke="#1a1a1a" stroke-width="1.0"/>
<circle cx="374.89" cy="775.78" r="1.7" fill="none" stroke="#1a1a1a" stroke-width="1.0"/>
<circle cx="376.09" cy="774.98" r="1.7" fill="none" stroke="#1a1a1a" stroke-width="1.0"/>
<circle cx="377.48" cy="774.05" r="1.7" fill="none" stroke="#1a1a1a" stroke-width="1.0"/>
<circle cx="377.99" cy="773.71" r="1.7" fill="none" stroke="#1a1a1a" stroke-width="1.0"/>
<circle cx="381.00" cy="771.71" r="1.7" fill="#fff" stroke="#1a1a1a" stroke-width="1.0"/>
<circle cx="385.80" cy="768.84" r="1.7" fill="#fff" stroke="#1a1a1a" stroke-width="1.0"/>
</svg>
</body></html>
